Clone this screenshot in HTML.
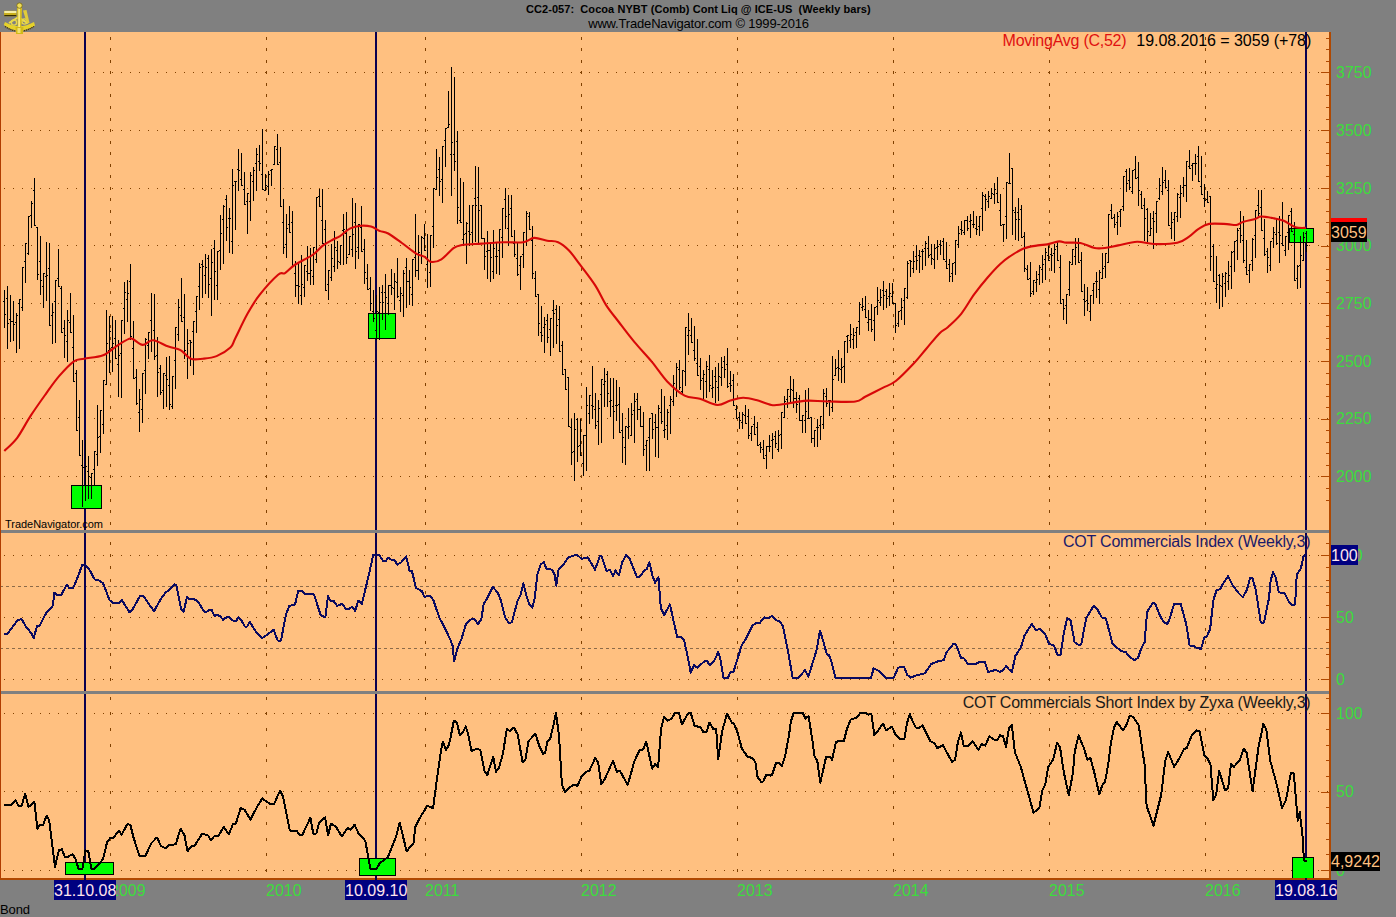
<!DOCTYPE html>
<html><head><meta charset="utf-8"><title>CC2-057 Cocoa NYBT Weekly</title>
<style>html,body{margin:0;padding:0;background:#808080;overflow:hidden}svg{display:block}text{font-family:"Liberation Sans", Arial, sans-serif}</style>
</head><body>
<svg width="1396" height="917" viewBox="0 0 1396 917" shape-rendering="crispEdges">
<rect x="0" y="0" width="1396" height="917" fill="#808080"/><rect x="0" y="32" width="1329" height="846" fill="#FFC080"/><path d="M4 72h1M13 72h1M22 72h1M31 72h1M40 72h1M49 72h1M58 72h1M67 72h1M76 72h1M85 72h1M94 72h1M103 72h1M112 72h1M121 72h1M130 72h1M139 72h1M148 72h1M157 72h1M166 72h1M175 72h1M184 72h1M193 72h1M202 72h1M211 72h1M220 72h1M229 72h1M238 72h1M247 72h1M256 72h1M265 72h1M274 72h1M283 72h1M292 72h1M301 72h1M310 72h1M319 72h1M328 72h1M337 72h1M346 72h1M355 72h1M364 72h1M373 72h1M382 72h1M391 72h1M400 72h1M409 72h1M418 72h1M427 72h1M436 72h1M445 72h1M454 72h1M463 72h1M472 72h1M481 72h1M490 72h1M499 72h1M508 72h1M517 72h1M526 72h1M535 72h1M544 72h1M553 72h1M562 72h1M571 72h1M580 72h1M589 72h1M598 72h1M607 72h1M616 72h1M625 72h1M634 72h1M643 72h1M652 72h1M661 72h1M670 72h1M679 72h1M688 72h1M697 72h1M706 72h1M715 72h1M724 72h1M733 72h1M742 72h1M751 72h1M760 72h1M769 72h1M778 72h1M787 72h1M796 72h1M805 72h1M814 72h1M823 72h1M832 72h1M841 72h1M850 72h1M859 72h1M868 72h1M877 72h1M886 72h1M895 72h1M904 72h1M913 72h1M922 72h1M931 72h1M940 72h1M949 72h1M958 72h1M967 72h1M976 72h1M985 72h1M994 72h1M1003 72h1M1012 72h1M1021 72h1M1030 72h1M1039 72h1M1048 72h1M1057 72h1M1066 72h1M1075 72h1M1084 72h1M1093 72h1M1102 72h1M1111 72h1M1120 72h1M1129 72h1M1138 72h1M1147 72h1M1156 72h1M1165 72h1M1174 72h1M1183 72h1M1192 72h1M1201 72h1M1210 72h1M1219 72h1M1228 72h1M1237 72h1M1246 72h1M1255 72h1M1264 72h1M1273 72h1M1282 72h1M1291 72h1M1300 72h1M1309 72h1M1318 72h1M1327 72h1M4 130h1M13 130h1M22 130h1M31 130h1M40 130h1M49 130h1M58 130h1M67 130h1M76 130h1M85 130h1M94 130h1M103 130h1M112 130h1M121 130h1M130 130h1M139 130h1M148 130h1M157 130h1M166 130h1M175 130h1M184 130h1M193 130h1M202 130h1M211 130h1M220 130h1M229 130h1M238 130h1M247 130h1M256 130h1M265 130h1M274 130h1M283 130h1M292 130h1M301 130h1M310 130h1M319 130h1M328 130h1M337 130h1M346 130h1M355 130h1M364 130h1M373 130h1M382 130h1M391 130h1M400 130h1M409 130h1M418 130h1M427 130h1M436 130h1M445 130h1M454 130h1M463 130h1M472 130h1M481 130h1M490 130h1M499 130h1M508 130h1M517 130h1M526 130h1M535 130h1M544 130h1M553 130h1M562 130h1M571 130h1M580 130h1M589 130h1M598 130h1M607 130h1M616 130h1M625 130h1M634 130h1M643 130h1M652 130h1M661 130h1M670 130h1M679 130h1M688 130h1M697 130h1M706 130h1M715 130h1M724 130h1M733 130h1M742 130h1M751 130h1M760 130h1M769 130h1M778 130h1M787 130h1M796 130h1M805 130h1M814 130h1M823 130h1M832 130h1M841 130h1M850 130h1M859 130h1M868 130h1M877 130h1M886 130h1M895 130h1M904 130h1M913 130h1M922 130h1M931 130h1M940 130h1M949 130h1M958 130h1M967 130h1M976 130h1M985 130h1M994 130h1M1003 130h1M1012 130h1M1021 130h1M1030 130h1M1039 130h1M1048 130h1M1057 130h1M1066 130h1M1075 130h1M1084 130h1M1093 130h1M1102 130h1M1111 130h1M1120 130h1M1129 130h1M1138 130h1M1147 130h1M1156 130h1M1165 130h1M1174 130h1M1183 130h1M1192 130h1M1201 130h1M1210 130h1M1219 130h1M1228 130h1M1237 130h1M1246 130h1M1255 130h1M1264 130h1M1273 130h1M1282 130h1M1291 130h1M1300 130h1M1309 130h1M1318 130h1M1327 130h1M4 188h1M13 188h1M22 188h1M31 188h1M40 188h1M49 188h1M58 188h1M67 188h1M76 188h1M85 188h1M94 188h1M103 188h1M112 188h1M121 188h1M130 188h1M139 188h1M148 188h1M157 188h1M166 188h1M175 188h1M184 188h1M193 188h1M202 188h1M211 188h1M220 188h1M229 188h1M238 188h1M247 188h1M256 188h1M265 188h1M274 188h1M283 188h1M292 188h1M301 188h1M310 188h1M319 188h1M328 188h1M337 188h1M346 188h1M355 188h1M364 188h1M373 188h1M382 188h1M391 188h1M400 188h1M409 188h1M418 188h1M427 188h1M436 188h1M445 188h1M454 188h1M463 188h1M472 188h1M481 188h1M490 188h1M499 188h1M508 188h1M517 188h1M526 188h1M535 188h1M544 188h1M553 188h1M562 188h1M571 188h1M580 188h1M589 188h1M598 188h1M607 188h1M616 188h1M625 188h1M634 188h1M643 188h1M652 188h1M661 188h1M670 188h1M679 188h1M688 188h1M697 188h1M706 188h1M715 188h1M724 188h1M733 188h1M742 188h1M751 188h1M760 188h1M769 188h1M778 188h1M787 188h1M796 188h1M805 188h1M814 188h1M823 188h1M832 188h1M841 188h1M850 188h1M859 188h1M868 188h1M877 188h1M886 188h1M895 188h1M904 188h1M913 188h1M922 188h1M931 188h1M940 188h1M949 188h1M958 188h1M967 188h1M976 188h1M985 188h1M994 188h1M1003 188h1M1012 188h1M1021 188h1M1030 188h1M1039 188h1M1048 188h1M1057 188h1M1066 188h1M1075 188h1M1084 188h1M1093 188h1M1102 188h1M1111 188h1M1120 188h1M1129 188h1M1138 188h1M1147 188h1M1156 188h1M1165 188h1M1174 188h1M1183 188h1M1192 188h1M1201 188h1M1210 188h1M1219 188h1M1228 188h1M1237 188h1M1246 188h1M1255 188h1M1264 188h1M1273 188h1M1282 188h1M1291 188h1M1300 188h1M1309 188h1M1318 188h1M1327 188h1M4 245h1M13 245h1M22 245h1M31 245h1M40 245h1M49 245h1M58 245h1M67 245h1M76 245h1M85 245h1M94 245h1M103 245h1M112 245h1M121 245h1M130 245h1M139 245h1M148 245h1M157 245h1M166 245h1M175 245h1M184 245h1M193 245h1M202 245h1M211 245h1M220 245h1M229 245h1M238 245h1M247 245h1M256 245h1M265 245h1M274 245h1M283 245h1M292 245h1M301 245h1M310 245h1M319 245h1M328 245h1M337 245h1M346 245h1M355 245h1M364 245h1M373 245h1M382 245h1M391 245h1M400 245h1M409 245h1M418 245h1M427 245h1M436 245h1M445 245h1M454 245h1M463 245h1M472 245h1M481 245h1M490 245h1M499 245h1M508 245h1M517 245h1M526 245h1M535 245h1M544 245h1M553 245h1M562 245h1M571 245h1M580 245h1M589 245h1M598 245h1M607 245h1M616 245h1M625 245h1M634 245h1M643 245h1M652 245h1M661 245h1M670 245h1M679 245h1M688 245h1M697 245h1M706 245h1M715 245h1M724 245h1M733 245h1M742 245h1M751 245h1M760 245h1M769 245h1M778 245h1M787 245h1M796 245h1M805 245h1M814 245h1M823 245h1M832 245h1M841 245h1M850 245h1M859 245h1M868 245h1M877 245h1M886 245h1M895 245h1M904 245h1M913 245h1M922 245h1M931 245h1M940 245h1M949 245h1M958 245h1M967 245h1M976 245h1M985 245h1M994 245h1M1003 245h1M1012 245h1M1021 245h1M1030 245h1M1039 245h1M1048 245h1M1057 245h1M1066 245h1M1075 245h1M1084 245h1M1093 245h1M1102 245h1M1111 245h1M1120 245h1M1129 245h1M1138 245h1M1147 245h1M1156 245h1M1165 245h1M1174 245h1M1183 245h1M1192 245h1M1201 245h1M1210 245h1M1219 245h1M1228 245h1M1237 245h1M1246 245h1M1255 245h1M1264 245h1M1273 245h1M1282 245h1M1291 245h1M1300 245h1M1309 245h1M1318 245h1M1327 245h1M4 303h1M13 303h1M22 303h1M31 303h1M40 303h1M49 303h1M58 303h1M67 303h1M76 303h1M85 303h1M94 303h1M103 303h1M112 303h1M121 303h1M130 303h1M139 303h1M148 303h1M157 303h1M166 303h1M175 303h1M184 303h1M193 303h1M202 303h1M211 303h1M220 303h1M229 303h1M238 303h1M247 303h1M256 303h1M265 303h1M274 303h1M283 303h1M292 303h1M301 303h1M310 303h1M319 303h1M328 303h1M337 303h1M346 303h1M355 303h1M364 303h1M373 303h1M382 303h1M391 303h1M400 303h1M409 303h1M418 303h1M427 303h1M436 303h1M445 303h1M454 303h1M463 303h1M472 303h1M481 303h1M490 303h1M499 303h1M508 303h1M517 303h1M526 303h1M535 303h1M544 303h1M553 303h1M562 303h1M571 303h1M580 303h1M589 303h1M598 303h1M607 303h1M616 303h1M625 303h1M634 303h1M643 303h1M652 303h1M661 303h1M670 303h1M679 303h1M688 303h1M697 303h1M706 303h1M715 303h1M724 303h1M733 303h1M742 303h1M751 303h1M760 303h1M769 303h1M778 303h1M787 303h1M796 303h1M805 303h1M814 303h1M823 303h1M832 303h1M841 303h1M850 303h1M859 303h1M868 303h1M877 303h1M886 303h1M895 303h1M904 303h1M913 303h1M922 303h1M931 303h1M940 303h1M949 303h1M958 303h1M967 303h1M976 303h1M985 303h1M994 303h1M1003 303h1M1012 303h1M1021 303h1M1030 303h1M1039 303h1M1048 303h1M1057 303h1M1066 303h1M1075 303h1M1084 303h1M1093 303h1M1102 303h1M1111 303h1M1120 303h1M1129 303h1M1138 303h1M1147 303h1M1156 303h1M1165 303h1M1174 303h1M1183 303h1M1192 303h1M1201 303h1M1210 303h1M1219 303h1M1228 303h1M1237 303h1M1246 303h1M1255 303h1M1264 303h1M1273 303h1M1282 303h1M1291 303h1M1300 303h1M1309 303h1M1318 303h1M1327 303h1M4 361h1M13 361h1M22 361h1M31 361h1M40 361h1M49 361h1M58 361h1M67 361h1M76 361h1M85 361h1M94 361h1M103 361h1M112 361h1M121 361h1M130 361h1M139 361h1M148 361h1M157 361h1M166 361h1M175 361h1M184 361h1M193 361h1M202 361h1M211 361h1M220 361h1M229 361h1M238 361h1M247 361h1M256 361h1M265 361h1M274 361h1M283 361h1M292 361h1M301 361h1M310 361h1M319 361h1M328 361h1M337 361h1M346 361h1M355 361h1M364 361h1M373 361h1M382 361h1M391 361h1M400 361h1M409 361h1M418 361h1M427 361h1M436 361h1M445 361h1M454 361h1M463 361h1M472 361h1M481 361h1M490 361h1M499 361h1M508 361h1M517 361h1M526 361h1M535 361h1M544 361h1M553 361h1M562 361h1M571 361h1M580 361h1M589 361h1M598 361h1M607 361h1M616 361h1M625 361h1M634 361h1M643 361h1M652 361h1M661 361h1M670 361h1M679 361h1M688 361h1M697 361h1M706 361h1M715 361h1M724 361h1M733 361h1M742 361h1M751 361h1M760 361h1M769 361h1M778 361h1M787 361h1M796 361h1M805 361h1M814 361h1M823 361h1M832 361h1M841 361h1M850 361h1M859 361h1M868 361h1M877 361h1M886 361h1M895 361h1M904 361h1M913 361h1M922 361h1M931 361h1M940 361h1M949 361h1M958 361h1M967 361h1M976 361h1M985 361h1M994 361h1M1003 361h1M1012 361h1M1021 361h1M1030 361h1M1039 361h1M1048 361h1M1057 361h1M1066 361h1M1075 361h1M1084 361h1M1093 361h1M1102 361h1M1111 361h1M1120 361h1M1129 361h1M1138 361h1M1147 361h1M1156 361h1M1165 361h1M1174 361h1M1183 361h1M1192 361h1M1201 361h1M1210 361h1M1219 361h1M1228 361h1M1237 361h1M1246 361h1M1255 361h1M1264 361h1M1273 361h1M1282 361h1M1291 361h1M1300 361h1M1309 361h1M1318 361h1M1327 361h1M4 418h1M13 418h1M22 418h1M31 418h1M40 418h1M49 418h1M58 418h1M67 418h1M76 418h1M85 418h1M94 418h1M103 418h1M112 418h1M121 418h1M130 418h1M139 418h1M148 418h1M157 418h1M166 418h1M175 418h1M184 418h1M193 418h1M202 418h1M211 418h1M220 418h1M229 418h1M238 418h1M247 418h1M256 418h1M265 418h1M274 418h1M283 418h1M292 418h1M301 418h1M310 418h1M319 418h1M328 418h1M337 418h1M346 418h1M355 418h1M364 418h1M373 418h1M382 418h1M391 418h1M400 418h1M409 418h1M418 418h1M427 418h1M436 418h1M445 418h1M454 418h1M463 418h1M472 418h1M481 418h1M490 418h1M499 418h1M508 418h1M517 418h1M526 418h1M535 418h1M544 418h1M553 418h1M562 418h1M571 418h1M580 418h1M589 418h1M598 418h1M607 418h1M616 418h1M625 418h1M634 418h1M643 418h1M652 418h1M661 418h1M670 418h1M679 418h1M688 418h1M697 418h1M706 418h1M715 418h1M724 418h1M733 418h1M742 418h1M751 418h1M760 418h1M769 418h1M778 418h1M787 418h1M796 418h1M805 418h1M814 418h1M823 418h1M832 418h1M841 418h1M850 418h1M859 418h1M868 418h1M877 418h1M886 418h1M895 418h1M904 418h1M913 418h1M922 418h1M931 418h1M940 418h1M949 418h1M958 418h1M967 418h1M976 418h1M985 418h1M994 418h1M1003 418h1M1012 418h1M1021 418h1M1030 418h1M1039 418h1M1048 418h1M1057 418h1M1066 418h1M1075 418h1M1084 418h1M1093 418h1M1102 418h1M1111 418h1M1120 418h1M1129 418h1M1138 418h1M1147 418h1M1156 418h1M1165 418h1M1174 418h1M1183 418h1M1192 418h1M1201 418h1M1210 418h1M1219 418h1M1228 418h1M1237 418h1M1246 418h1M1255 418h1M1264 418h1M1273 418h1M1282 418h1M1291 418h1M1300 418h1M1309 418h1M1318 418h1M1327 418h1M4 476h1M13 476h1M22 476h1M31 476h1M40 476h1M49 476h1M58 476h1M67 476h1M76 476h1M85 476h1M94 476h1M103 476h1M112 476h1M121 476h1M130 476h1M139 476h1M148 476h1M157 476h1M166 476h1M175 476h1M184 476h1M193 476h1M202 476h1M211 476h1M220 476h1M229 476h1M238 476h1M247 476h1M256 476h1M265 476h1M274 476h1M283 476h1M292 476h1M301 476h1M310 476h1M319 476h1M328 476h1M337 476h1M346 476h1M355 476h1M364 476h1M373 476h1M382 476h1M391 476h1M400 476h1M409 476h1M418 476h1M427 476h1M436 476h1M445 476h1M454 476h1M463 476h1M472 476h1M481 476h1M490 476h1M499 476h1M508 476h1M517 476h1M526 476h1M535 476h1M544 476h1M553 476h1M562 476h1M571 476h1M580 476h1M589 476h1M598 476h1M607 476h1M616 476h1M625 476h1M634 476h1M643 476h1M652 476h1M661 476h1M670 476h1M679 476h1M688 476h1M697 476h1M706 476h1M715 476h1M724 476h1M733 476h1M742 476h1M751 476h1M760 476h1M769 476h1M778 476h1M787 476h1M796 476h1M805 476h1M814 476h1M823 476h1M832 476h1M841 476h1M850 476h1M859 476h1M868 476h1M877 476h1M886 476h1M895 476h1M904 476h1M913 476h1M922 476h1M931 476h1M940 476h1M949 476h1M958 476h1M967 476h1M976 476h1M985 476h1M994 476h1M1003 476h1M1012 476h1M1021 476h1M1030 476h1M1039 476h1M1048 476h1M1057 476h1M1066 476h1M1075 476h1M1084 476h1M1093 476h1M1102 476h1M1111 476h1M1120 476h1M1129 476h1M1138 476h1M1147 476h1M1156 476h1M1165 476h1M1174 476h1M1183 476h1M1192 476h1M1201 476h1M1210 476h1M1219 476h1M1228 476h1M1237 476h1M1246 476h1M1255 476h1M1264 476h1M1273 476h1M1282 476h1M1291 476h1M1300 476h1M1309 476h1M1318 476h1M1327 476h1M4 555h1M13 555h1M22 555h1M31 555h1M40 555h1M49 555h1M58 555h1M67 555h1M76 555h1M85 555h1M94 555h1M103 555h1M112 555h1M121 555h1M130 555h1M139 555h1M148 555h1M157 555h1M166 555h1M175 555h1M184 555h1M193 555h1M202 555h1M211 555h1M220 555h1M229 555h1M238 555h1M247 555h1M256 555h1M265 555h1M274 555h1M283 555h1M292 555h1M301 555h1M310 555h1M319 555h1M328 555h1M337 555h1M346 555h1M355 555h1M364 555h1M373 555h1M382 555h1M391 555h1M400 555h1M409 555h1M418 555h1M427 555h1M436 555h1M445 555h1M454 555h1M463 555h1M472 555h1M481 555h1M490 555h1M499 555h1M508 555h1M517 555h1M526 555h1M535 555h1M544 555h1M553 555h1M562 555h1M571 555h1M580 555h1M589 555h1M598 555h1M607 555h1M616 555h1M625 555h1M634 555h1M643 555h1M652 555h1M661 555h1M670 555h1M679 555h1M688 555h1M697 555h1M706 555h1M715 555h1M724 555h1M733 555h1M742 555h1M751 555h1M760 555h1M769 555h1M778 555h1M787 555h1M796 555h1M805 555h1M814 555h1M823 555h1M832 555h1M841 555h1M850 555h1M859 555h1M868 555h1M877 555h1M886 555h1M895 555h1M904 555h1M913 555h1M922 555h1M931 555h1M940 555h1M949 555h1M958 555h1M967 555h1M976 555h1M985 555h1M994 555h1M1003 555h1M1012 555h1M1021 555h1M1030 555h1M1039 555h1M1048 555h1M1057 555h1M1066 555h1M1075 555h1M1084 555h1M1093 555h1M1102 555h1M1111 555h1M1120 555h1M1129 555h1M1138 555h1M1147 555h1M1156 555h1M1165 555h1M1174 555h1M1183 555h1M1192 555h1M1201 555h1M1210 555h1M1219 555h1M1228 555h1M1237 555h1M1246 555h1M1255 555h1M1264 555h1M1273 555h1M1282 555h1M1291 555h1M1300 555h1M1309 555h1M1318 555h1M1327 555h1M4 617h1M13 617h1M22 617h1M31 617h1M40 617h1M49 617h1M58 617h1M67 617h1M76 617h1M85 617h1M94 617h1M103 617h1M112 617h1M121 617h1M130 617h1M139 617h1M148 617h1M157 617h1M166 617h1M175 617h1M184 617h1M193 617h1M202 617h1M211 617h1M220 617h1M229 617h1M238 617h1M247 617h1M256 617h1M265 617h1M274 617h1M283 617h1M292 617h1M301 617h1M310 617h1M319 617h1M328 617h1M337 617h1M346 617h1M355 617h1M364 617h1M373 617h1M382 617h1M391 617h1M400 617h1M409 617h1M418 617h1M427 617h1M436 617h1M445 617h1M454 617h1M463 617h1M472 617h1M481 617h1M490 617h1M499 617h1M508 617h1M517 617h1M526 617h1M535 617h1M544 617h1M553 617h1M562 617h1M571 617h1M580 617h1M589 617h1M598 617h1M607 617h1M616 617h1M625 617h1M634 617h1M643 617h1M652 617h1M661 617h1M670 617h1M679 617h1M688 617h1M697 617h1M706 617h1M715 617h1M724 617h1M733 617h1M742 617h1M751 617h1M760 617h1M769 617h1M778 617h1M787 617h1M796 617h1M805 617h1M814 617h1M823 617h1M832 617h1M841 617h1M850 617h1M859 617h1M868 617h1M877 617h1M886 617h1M895 617h1M904 617h1M913 617h1M922 617h1M931 617h1M940 617h1M949 617h1M958 617h1M967 617h1M976 617h1M985 617h1M994 617h1M1003 617h1M1012 617h1M1021 617h1M1030 617h1M1039 617h1M1048 617h1M1057 617h1M1066 617h1M1075 617h1M1084 617h1M1093 617h1M1102 617h1M1111 617h1M1120 617h1M1129 617h1M1138 617h1M1147 617h1M1156 617h1M1165 617h1M1174 617h1M1183 617h1M1192 617h1M1201 617h1M1210 617h1M1219 617h1M1228 617h1M1237 617h1M1246 617h1M1255 617h1M1264 617h1M1273 617h1M1282 617h1M1291 617h1M1300 617h1M1309 617h1M1318 617h1M1327 617h1M4 679h1M13 679h1M22 679h1M31 679h1M40 679h1M49 679h1M58 679h1M67 679h1M76 679h1M85 679h1M94 679h1M103 679h1M112 679h1M121 679h1M130 679h1M139 679h1M148 679h1M157 679h1M166 679h1M175 679h1M184 679h1M193 679h1M202 679h1M211 679h1M220 679h1M229 679h1M238 679h1M247 679h1M256 679h1M265 679h1M274 679h1M283 679h1M292 679h1M301 679h1M310 679h1M319 679h1M328 679h1M337 679h1M346 679h1M355 679h1M364 679h1M373 679h1M382 679h1M391 679h1M400 679h1M409 679h1M418 679h1M427 679h1M436 679h1M445 679h1M454 679h1M463 679h1M472 679h1M481 679h1M490 679h1M499 679h1M508 679h1M517 679h1M526 679h1M535 679h1M544 679h1M553 679h1M562 679h1M571 679h1M580 679h1M589 679h1M598 679h1M607 679h1M616 679h1M625 679h1M634 679h1M643 679h1M652 679h1M661 679h1M670 679h1M679 679h1M688 679h1M697 679h1M706 679h1M715 679h1M724 679h1M733 679h1M742 679h1M751 679h1M760 679h1M769 679h1M778 679h1M787 679h1M796 679h1M805 679h1M814 679h1M823 679h1M832 679h1M841 679h1M850 679h1M859 679h1M868 679h1M877 679h1M886 679h1M895 679h1M904 679h1M913 679h1M922 679h1M931 679h1M940 679h1M949 679h1M958 679h1M967 679h1M976 679h1M985 679h1M994 679h1M1003 679h1M1012 679h1M1021 679h1M1030 679h1M1039 679h1M1048 679h1M1057 679h1M1066 679h1M1075 679h1M1084 679h1M1093 679h1M1102 679h1M1111 679h1M1120 679h1M1129 679h1M1138 679h1M1147 679h1M1156 679h1M1165 679h1M1174 679h1M1183 679h1M1192 679h1M1201 679h1M1210 679h1M1219 679h1M1228 679h1M1237 679h1M1246 679h1M1255 679h1M1264 679h1M1273 679h1M1282 679h1M1291 679h1M1300 679h1M1309 679h1M1318 679h1M1327 679h1M4 713h1M13 713h1M22 713h1M31 713h1M40 713h1M49 713h1M58 713h1M67 713h1M76 713h1M85 713h1M94 713h1M103 713h1M112 713h1M121 713h1M130 713h1M139 713h1M148 713h1M157 713h1M166 713h1M175 713h1M184 713h1M193 713h1M202 713h1M211 713h1M220 713h1M229 713h1M238 713h1M247 713h1M256 713h1M265 713h1M274 713h1M283 713h1M292 713h1M301 713h1M310 713h1M319 713h1M328 713h1M337 713h1M346 713h1M355 713h1M364 713h1M373 713h1M382 713h1M391 713h1M400 713h1M409 713h1M418 713h1M427 713h1M436 713h1M445 713h1M454 713h1M463 713h1M472 713h1M481 713h1M490 713h1M499 713h1M508 713h1M517 713h1M526 713h1M535 713h1M544 713h1M553 713h1M562 713h1M571 713h1M580 713h1M589 713h1M598 713h1M607 713h1M616 713h1M625 713h1M634 713h1M643 713h1M652 713h1M661 713h1M670 713h1M679 713h1M688 713h1M697 713h1M706 713h1M715 713h1M724 713h1M733 713h1M742 713h1M751 713h1M760 713h1M769 713h1M778 713h1M787 713h1M796 713h1M805 713h1M814 713h1M823 713h1M832 713h1M841 713h1M850 713h1M859 713h1M868 713h1M877 713h1M886 713h1M895 713h1M904 713h1M913 713h1M922 713h1M931 713h1M940 713h1M949 713h1M958 713h1M967 713h1M976 713h1M985 713h1M994 713h1M1003 713h1M1012 713h1M1021 713h1M1030 713h1M1039 713h1M1048 713h1M1057 713h1M1066 713h1M1075 713h1M1084 713h1M1093 713h1M1102 713h1M1111 713h1M1120 713h1M1129 713h1M1138 713h1M1147 713h1M1156 713h1M1165 713h1M1174 713h1M1183 713h1M1192 713h1M1201 713h1M1210 713h1M1219 713h1M1228 713h1M1237 713h1M1246 713h1M1255 713h1M1264 713h1M1273 713h1M1282 713h1M1291 713h1M1300 713h1M1309 713h1M1318 713h1M1327 713h1M4 791h1M13 791h1M22 791h1M31 791h1M40 791h1M49 791h1M58 791h1M67 791h1M76 791h1M85 791h1M94 791h1M103 791h1M112 791h1M121 791h1M130 791h1M139 791h1M148 791h1M157 791h1M166 791h1M175 791h1M184 791h1M193 791h1M202 791h1M211 791h1M220 791h1M229 791h1M238 791h1M247 791h1M256 791h1M265 791h1M274 791h1M283 791h1M292 791h1M301 791h1M310 791h1M319 791h1M328 791h1M337 791h1M346 791h1M355 791h1M364 791h1M373 791h1M382 791h1M391 791h1M400 791h1M409 791h1M418 791h1M427 791h1M436 791h1M445 791h1M454 791h1M463 791h1M472 791h1M481 791h1M490 791h1M499 791h1M508 791h1M517 791h1M526 791h1M535 791h1M544 791h1M553 791h1M562 791h1M571 791h1M580 791h1M589 791h1M598 791h1M607 791h1M616 791h1M625 791h1M634 791h1M643 791h1M652 791h1M661 791h1M670 791h1M679 791h1M688 791h1M697 791h1M706 791h1M715 791h1M724 791h1M733 791h1M742 791h1M751 791h1M760 791h1M769 791h1M778 791h1M787 791h1M796 791h1M805 791h1M814 791h1M823 791h1M832 791h1M841 791h1M850 791h1M859 791h1M868 791h1M877 791h1M886 791h1M895 791h1M904 791h1M913 791h1M922 791h1M931 791h1M940 791h1M949 791h1M958 791h1M967 791h1M976 791h1M985 791h1M994 791h1M1003 791h1M1012 791h1M1021 791h1M1030 791h1M1039 791h1M1048 791h1M1057 791h1M1066 791h1M1075 791h1M1084 791h1M1093 791h1M1102 791h1M1111 791h1M1120 791h1M1129 791h1M1138 791h1M1147 791h1M1156 791h1M1165 791h1M1174 791h1M1183 791h1M1192 791h1M1201 791h1M1210 791h1M1219 791h1M1228 791h1M1237 791h1M1246 791h1M1255 791h1M1264 791h1M1273 791h1M1282 791h1M1291 791h1M1300 791h1M1309 791h1M1318 791h1M1327 791h1M4 870h1M13 870h1M22 870h1M31 870h1M40 870h1M49 870h1M58 870h1M67 870h1M76 870h1M85 870h1M94 870h1M103 870h1M112 870h1M121 870h1M130 870h1M139 870h1M148 870h1M157 870h1M166 870h1M175 870h1M184 870h1M193 870h1M202 870h1M211 870h1M220 870h1M229 870h1M238 870h1M247 870h1M256 870h1M265 870h1M274 870h1M283 870h1M292 870h1M301 870h1M310 870h1M319 870h1M328 870h1M337 870h1M346 870h1M355 870h1M364 870h1M373 870h1M382 870h1M391 870h1M400 870h1M409 870h1M418 870h1M427 870h1M436 870h1M445 870h1M454 870h1M463 870h1M472 870h1M481 870h1M490 870h1M499 870h1M508 870h1M517 870h1M526 870h1M535 870h1M544 870h1M553 870h1M562 870h1M571 870h1M580 870h1M589 870h1M598 870h1M607 870h1M616 870h1M625 870h1M634 870h1M643 870h1M652 870h1M661 870h1M670 870h1M679 870h1M688 870h1M697 870h1M706 870h1M715 870h1M724 870h1M733 870h1M742 870h1M751 870h1M760 870h1M769 870h1M778 870h1M787 870h1M796 870h1M805 870h1M814 870h1M823 870h1M832 870h1M841 870h1M850 870h1M859 870h1M868 870h1M877 870h1M886 870h1M895 870h1M904 870h1M913 870h1M922 870h1M931 870h1M940 870h1M949 870h1M958 870h1M967 870h1M976 870h1M985 870h1M994 870h1M1003 870h1M1012 870h1M1021 870h1M1030 870h1M1039 870h1M1048 870h1M1057 870h1M1066 870h1M1075 870h1M1084 870h1M1093 870h1M1102 870h1M1111 870h1M1120 870h1M1129 870h1M1138 870h1M1147 870h1M1156 870h1M1165 870h1M1174 870h1M1183 870h1M1192 870h1M1201 870h1M1210 870h1M1219 870h1M1228 870h1M1237 870h1M1246 870h1M1255 870h1M1264 870h1M1273 870h1M1282 870h1M1291 870h1M1300 870h1M1309 870h1M1318 870h1M1327 870h1" stroke="#804000" stroke-width="1" transform="translate(0,0.5)"/><path d="M0 586h3M6 586h3M12 586h3M18 586h3M24 586h3M30 586h3M36 586h3M42 586h3M48 586h3M54 586h3M60 586h3M66 586h3M72 586h3M78 586h3M84 586h3M90 586h3M96 586h3M102 586h3M108 586h3M114 586h3M120 586h3M126 586h3M132 586h3M138 586h3M144 586h3M150 586h3M156 586h3M162 586h3M168 586h3M174 586h3M180 586h3M186 586h3M192 586h3M198 586h3M204 586h3M210 586h3M216 586h3M222 586h3M228 586h3M234 586h3M240 586h3M246 586h3M252 586h3M258 586h3M264 586h3M270 586h3M276 586h3M282 586h3M288 586h3M294 586h3M300 586h3M306 586h3M312 586h3M318 586h3M324 586h3M330 586h3M336 586h3M342 586h3M348 586h3M354 586h3M360 586h3M366 586h3M372 586h3M378 586h3M384 586h3M390 586h3M396 586h3M402 586h3M408 586h3M414 586h3M420 586h3M426 586h3M432 586h3M438 586h3M444 586h3M450 586h3M456 586h3M462 586h3M468 586h3M474 586h3M480 586h3M486 586h3M492 586h3M498 586h3M504 586h3M510 586h3M516 586h3M522 586h3M528 586h3M534 586h3M540 586h3M546 586h3M552 586h3M558 586h3M564 586h3M570 586h3M576 586h3M582 586h3M588 586h3M594 586h3M600 586h3M606 586h3M612 586h3M618 586h3M624 586h3M630 586h3M636 586h3M642 586h3M648 586h3M654 586h3M660 586h3M666 586h3M672 586h3M678 586h3M684 586h3M690 586h3M696 586h3M702 586h3M708 586h3M714 586h3M720 586h3M726 586h3M732 586h3M738 586h3M744 586h3M750 586h3M756 586h3M762 586h3M768 586h3M774 586h3M780 586h3M786 586h3M792 586h3M798 586h3M804 586h3M810 586h3M816 586h3M822 586h3M828 586h3M834 586h3M840 586h3M846 586h3M852 586h3M858 586h3M864 586h3M870 586h3M876 586h3M882 586h3M888 586h3M894 586h3M900 586h3M906 586h3M912 586h3M918 586h3M924 586h3M930 586h3M936 586h3M942 586h3M948 586h3M954 586h3M960 586h3M966 586h3M972 586h3M978 586h3M984 586h3M990 586h3M996 586h3M1002 586h3M1008 586h3M1014 586h3M1020 586h3M1026 586h3M1032 586h3M1038 586h3M1044 586h3M1050 586h3M1056 586h3M1062 586h3M1068 586h3M1074 586h3M1080 586h3M1086 586h3M1092 586h3M1098 586h3M1104 586h3M1110 586h3M1116 586h3M1122 586h3M1128 586h3M1134 586h3M1140 586h3M1146 586h3M1152 586h3M1158 586h3M1164 586h3M1170 586h3M1176 586h3M1182 586h3M1188 586h3M1194 586h3M1200 586h3M1206 586h3M1212 586h3M1218 586h3M1224 586h3M1230 586h3M1236 586h3M1242 586h3M1248 586h3M1254 586h3M1260 586h3M1266 586h3M1272 586h3M1278 586h3M1284 586h3M1290 586h3M1296 586h3M1302 586h3M1308 586h3M1314 586h3M1320 586h3M1326 586h3M0 648h3M6 648h3M12 648h3M18 648h3M24 648h3M30 648h3M36 648h3M42 648h3M48 648h3M54 648h3M60 648h3M66 648h3M72 648h3M78 648h3M84 648h3M90 648h3M96 648h3M102 648h3M108 648h3M114 648h3M120 648h3M126 648h3M132 648h3M138 648h3M144 648h3M150 648h3M156 648h3M162 648h3M168 648h3M174 648h3M180 648h3M186 648h3M192 648h3M198 648h3M204 648h3M210 648h3M216 648h3M222 648h3M228 648h3M234 648h3M240 648h3M246 648h3M252 648h3M258 648h3M264 648h3M270 648h3M276 648h3M282 648h3M288 648h3M294 648h3M300 648h3M306 648h3M312 648h3M318 648h3M324 648h3M330 648h3M336 648h3M342 648h3M348 648h3M354 648h3M360 648h3M366 648h3M372 648h3M378 648h3M384 648h3M390 648h3M396 648h3M402 648h3M408 648h3M414 648h3M420 648h3M426 648h3M432 648h3M438 648h3M444 648h3M450 648h3M456 648h3M462 648h3M468 648h3M474 648h3M480 648h3M486 648h3M492 648h3M498 648h3M504 648h3M510 648h3M516 648h3M522 648h3M528 648h3M534 648h3M540 648h3M546 648h3M552 648h3M558 648h3M564 648h3M570 648h3M576 648h3M582 648h3M588 648h3M594 648h3M600 648h3M606 648h3M612 648h3M618 648h3M624 648h3M630 648h3M636 648h3M642 648h3M648 648h3M654 648h3M660 648h3M666 648h3M672 648h3M678 648h3M684 648h3M690 648h3M696 648h3M702 648h3M708 648h3M714 648h3M720 648h3M726 648h3M732 648h3M738 648h3M744 648h3M750 648h3M756 648h3M762 648h3M768 648h3M774 648h3M780 648h3M786 648h3M792 648h3M798 648h3M804 648h3M810 648h3M816 648h3M822 648h3M828 648h3M834 648h3M840 648h3M846 648h3M852 648h3M858 648h3M864 648h3M870 648h3M876 648h3M882 648h3M888 648h3M894 648h3M900 648h3M906 648h3M912 648h3M918 648h3M924 648h3M930 648h3M936 648h3M942 648h3M948 648h3M954 648h3M960 648h3M966 648h3M972 648h3M978 648h3M984 648h3M990 648h3M996 648h3M1002 648h3M1008 648h3M1014 648h3M1020 648h3M1026 648h3M1032 648h3M1038 648h3M1044 648h3M1050 648h3M1056 648h3M1062 648h3M1068 648h3M1074 648h3M1080 648h3M1086 648h3M1092 648h3M1098 648h3M1104 648h3M1110 648h3M1116 648h3M1122 648h3M1128 648h3M1134 648h3M1140 648h3M1146 648h3M1152 648h3M1158 648h3M1164 648h3M1170 648h3M1176 648h3M1182 648h3M1188 648h3M1194 648h3M1200 648h3M1206 648h3M1212 648h3M1218 648h3M1224 648h3M1230 648h3M1236 648h3M1242 648h3M1248 648h3M1254 648h3M1260 648h3M1266 648h3M1272 648h3M1278 648h3M1284 648h3M1290 648h3M1296 648h3M1302 648h3M1308 648h3M1314 648h3M1320 648h3M1326 648h3" stroke="#8C6A48" stroke-width="1" transform="translate(0,0.5)"/><path d="M110 522v3M110 510v3M110 499v3M110 487v3M110 475v3M110 464v3M110 452v3M110 441v3M110 429v3M110 418v3M110 406v3M110 395v3M110 383v3M110 372v3M110 360v3M110 348v3M110 337v3M110 325v3M110 314v3M110 302v3M110 291v3M110 279v3M110 268v3M110 256v3M110 245v3M110 233v3M110 221v3M110 210v3M110 198v3M110 187v3M110 175v3M110 164v3M110 152v3M110 141v3M110 129v3M110 118v3M110 106v3M110 94v3M110 83v3M110 71v3M110 60v3M110 48v3M110 37v3M110 678v3M110 666v3M110 653v3M110 641v3M110 628v3M110 616v3M110 604v3M110 591v3M110 579v3M110 566v3M110 554v3M110 542v3M110 869v3M110 853v3M110 838v3M110 822v3M110 806v3M110 791v3M110 775v3M110 759v3M110 744v3M110 728v3M110 712v3M110 697v3M266 522v3M266 510v3M266 499v3M266 487v3M266 475v3M266 464v3M266 452v3M266 441v3M266 429v3M266 418v3M266 406v3M266 395v3M266 383v3M266 372v3M266 360v3M266 348v3M266 337v3M266 325v3M266 314v3M266 302v3M266 291v3M266 279v3M266 268v3M266 256v3M266 245v3M266 233v3M266 221v3M266 210v3M266 198v3M266 187v3M266 175v3M266 164v3M266 152v3M266 141v3M266 129v3M266 118v3M266 106v3M266 94v3M266 83v3M266 71v3M266 60v3M266 48v3M266 37v3M266 678v3M266 666v3M266 653v3M266 641v3M266 628v3M266 616v3M266 604v3M266 591v3M266 579v3M266 566v3M266 554v3M266 542v3M266 869v3M266 853v3M266 838v3M266 822v3M266 806v3M266 791v3M266 775v3M266 759v3M266 744v3M266 728v3M266 712v3M266 697v3M425 522v3M425 510v3M425 499v3M425 487v3M425 475v3M425 464v3M425 452v3M425 441v3M425 429v3M425 418v3M425 406v3M425 395v3M425 383v3M425 372v3M425 360v3M425 348v3M425 337v3M425 325v3M425 314v3M425 302v3M425 291v3M425 279v3M425 268v3M425 256v3M425 245v3M425 233v3M425 221v3M425 210v3M425 198v3M425 187v3M425 175v3M425 164v3M425 152v3M425 141v3M425 129v3M425 118v3M425 106v3M425 94v3M425 83v3M425 71v3M425 60v3M425 48v3M425 37v3M425 678v3M425 666v3M425 653v3M425 641v3M425 628v3M425 616v3M425 604v3M425 591v3M425 579v3M425 566v3M425 554v3M425 542v3M425 869v3M425 853v3M425 838v3M425 822v3M425 806v3M425 791v3M425 775v3M425 759v3M425 744v3M425 728v3M425 712v3M425 697v3M581 522v3M581 510v3M581 499v3M581 487v3M581 475v3M581 464v3M581 452v3M581 441v3M581 429v3M581 418v3M581 406v3M581 395v3M581 383v3M581 372v3M581 360v3M581 348v3M581 337v3M581 325v3M581 314v3M581 302v3M581 291v3M581 279v3M581 268v3M581 256v3M581 245v3M581 233v3M581 221v3M581 210v3M581 198v3M581 187v3M581 175v3M581 164v3M581 152v3M581 141v3M581 129v3M581 118v3M581 106v3M581 94v3M581 83v3M581 71v3M581 60v3M581 48v3M581 37v3M581 678v3M581 666v3M581 653v3M581 641v3M581 628v3M581 616v3M581 604v3M581 591v3M581 579v3M581 566v3M581 554v3M581 542v3M581 869v3M581 853v3M581 838v3M581 822v3M581 806v3M581 791v3M581 775v3M581 759v3M581 744v3M581 728v3M581 712v3M581 697v3M737 522v3M737 510v3M737 499v3M737 487v3M737 475v3M737 464v3M737 452v3M737 441v3M737 429v3M737 418v3M737 406v3M737 395v3M737 383v3M737 372v3M737 360v3M737 348v3M737 337v3M737 325v3M737 314v3M737 302v3M737 291v3M737 279v3M737 268v3M737 256v3M737 245v3M737 233v3M737 221v3M737 210v3M737 198v3M737 187v3M737 175v3M737 164v3M737 152v3M737 141v3M737 129v3M737 118v3M737 106v3M737 94v3M737 83v3M737 71v3M737 60v3M737 48v3M737 37v3M737 678v3M737 666v3M737 653v3M737 641v3M737 628v3M737 616v3M737 604v3M737 591v3M737 579v3M737 566v3M737 554v3M737 542v3M737 869v3M737 853v3M737 838v3M737 822v3M737 806v3M737 791v3M737 775v3M737 759v3M737 744v3M737 728v3M737 712v3M737 697v3M893 522v3M893 510v3M893 499v3M893 487v3M893 475v3M893 464v3M893 452v3M893 441v3M893 429v3M893 418v3M893 406v3M893 395v3M893 383v3M893 372v3M893 360v3M893 348v3M893 337v3M893 325v3M893 314v3M893 302v3M893 291v3M893 279v3M893 268v3M893 256v3M893 245v3M893 233v3M893 221v3M893 210v3M893 198v3M893 187v3M893 175v3M893 164v3M893 152v3M893 141v3M893 129v3M893 118v3M893 106v3M893 94v3M893 83v3M893 71v3M893 60v3M893 48v3M893 37v3M893 678v3M893 666v3M893 653v3M893 641v3M893 628v3M893 616v3M893 604v3M893 591v3M893 579v3M893 566v3M893 554v3M893 542v3M893 869v3M893 853v3M893 838v3M893 822v3M893 806v3M893 791v3M893 775v3M893 759v3M893 744v3M893 728v3M893 712v3M893 697v3M1049 522v3M1049 510v3M1049 499v3M1049 487v3M1049 475v3M1049 464v3M1049 452v3M1049 441v3M1049 429v3M1049 418v3M1049 406v3M1049 395v3M1049 383v3M1049 372v3M1049 360v3M1049 348v3M1049 337v3M1049 325v3M1049 314v3M1049 302v3M1049 291v3M1049 279v3M1049 268v3M1049 256v3M1049 245v3M1049 233v3M1049 221v3M1049 210v3M1049 198v3M1049 187v3M1049 175v3M1049 164v3M1049 152v3M1049 141v3M1049 129v3M1049 118v3M1049 106v3M1049 94v3M1049 83v3M1049 71v3M1049 60v3M1049 48v3M1049 37v3M1049 678v3M1049 666v3M1049 653v3M1049 641v3M1049 628v3M1049 616v3M1049 604v3M1049 591v3M1049 579v3M1049 566v3M1049 554v3M1049 542v3M1049 869v3M1049 853v3M1049 838v3M1049 822v3M1049 806v3M1049 791v3M1049 775v3M1049 759v3M1049 744v3M1049 728v3M1049 712v3M1049 697v3M1205 522v3M1205 510v3M1205 499v3M1205 487v3M1205 475v3M1205 464v3M1205 452v3M1205 441v3M1205 429v3M1205 418v3M1205 406v3M1205 395v3M1205 383v3M1205 372v3M1205 360v3M1205 348v3M1205 337v3M1205 325v3M1205 314v3M1205 302v3M1205 291v3M1205 279v3M1205 268v3M1205 256v3M1205 245v3M1205 233v3M1205 221v3M1205 210v3M1205 198v3M1205 187v3M1205 175v3M1205 164v3M1205 152v3M1205 141v3M1205 129v3M1205 118v3M1205 106v3M1205 94v3M1205 83v3M1205 71v3M1205 60v3M1205 48v3M1205 37v3M1205 678v3M1205 666v3M1205 653v3M1205 641v3M1205 628v3M1205 616v3M1205 604v3M1205 591v3M1205 579v3M1205 566v3M1205 554v3M1205 542v3M1205 869v3M1205 853v3M1205 838v3M1205 822v3M1205 806v3M1205 791v3M1205 775v3M1205 759v3M1205 744v3M1205 728v3M1205 712v3M1205 697v3" stroke="#804000" stroke-width="1" transform="translate(0.5,0)"/><rect x="84" y="32" width="2" height="848" fill="#0A0050"/><rect x="375" y="32" width="2" height="848" fill="#0A0050"/><rect x="1305" y="32" width="2" height="848" fill="#0A0050"/><rect x="71.5" y="485.5" width="30" height="23" fill="#00FF00" stroke="#000" stroke-width="1"/><rect x="368.5" y="313.5" width="27" height="25" fill="#00FF00" stroke="#000" stroke-width="1"/><rect x="1289.5" y="228.5" width="24" height="14" fill="#00FF00" stroke="#000" stroke-width="1"/><rect x="65.5" y="862.5" width="48" height="12" fill="#00FF00" stroke="#000" stroke-width="1"/><rect x="359.5" y="858.5" width="36" height="17" fill="#00FF00" stroke="#000" stroke-width="1"/><rect x="1292.5" y="857.5" width="21" height="21" fill="#00FF00" stroke="#000" stroke-width="1"/><path d="M4.5 290V328M3 301.5h1M5 314.5h1M7.5 286V349M6 298.5h1M8 323.5h1M10.5 295V342M9 319.5h1M11 321.5h1M13.5 301V341M12 321.5h1M14 324.5h1M16.5 313V353M15 322.5h1M17 315.5h1M19.5 299V349M18 303.5h1M20 299.5h1M22.5 267V311M21 307.5h1M23 267.5h1M25.5 243V283M24 261.5h1M26 243.5h1M28.5 216V255M27 253.5h1M29 216.5h1M31.5 201V228M30 215.5h1M32 203.5h1M34.5 178V226M33 190.5h1M35 225.5h1M37.5 227V280M36 227.5h1M38 274.5h1M40.5 236V295M39 261.5h1M41 280.5h1M43.5 273V308M42 286.5h1M44 273.5h1M46.5 242V301M45 276.5h1M47 275.5h1M49.5 243V326M48 268.5h1M50 325.5h1M52.5 303V344M51 315.5h1M53 312.5h1M55.5 280V343M54 301.5h1M56 280.5h1M58.5 249V287M57 278.5h1M59 286.5h1M61.5 286V333M60 288.5h1M62 332.5h1M64.5 320V358M63 328.5h1M65 335.5h1M67.5 310V362M66 341.5h1M68 320.5h1M70.5 293V333M69 322.5h1M71 332.5h1M73.5 315V382M72 347.5h1M74 381.5h1M76.5 370V431M75 373.5h1M77 430.5h1M79.5 400V456M78 417.5h1M80 455.5h1M82.5 440V507M81 465.5h1M83 467.5h1M85.5 440V501M84 467.5h1M86 466.5h1M88.5 456V499M87 471.5h1M89 476.5h1M91.5 473V499M90 477.5h1M92 473.5h1M94.5 451V485M93 469.5h1M95 451.5h1M97.5 405V466M96 454.5h1M98 437.5h1M100.5 410V453M99 436.5h1M101 410.5h1M103.5 380V434M102 424.5h1M104 380.5h1M106.5 310V385M105 384.5h1M107 343.5h1M109.5 316V373M108 350.5h1M110 331.5h1M112.5 316V372M111 347.5h1M113 343.5h1M115.5 320V359M114 338.5h1M116 358.5h1M118.5 340V397M117 364.5h1M119 355.5h1M121.5 320V398M120 353.5h1M122 320.5h1M124.5 282V334M123 308.5h1M125 292.5h1M127.5 280V322M126 299.5h1M128 293.5h1M130.5 264V340M129 281.5h1M131 336.5h1M133.5 321V379M132 348.5h1M134 378.5h1M136.5 369V405M135 377.5h1M137 403.5h1M139.5 389V432M138 412.5h1M140 399.5h1M142.5 373V423M141 409.5h1M143 373.5h1M145.5 338V394M144 370.5h1M146 339.5h1M148.5 332V359M147 345.5h1M149 332.5h1M151.5 293V352M150 320.5h1M152 340.5h1M154.5 294V360M153 330.5h1M155 356.5h1M157.5 337V397M156 355.5h1M158 372.5h1M160.5 365V395M159 368.5h1M161 392.5h1M163.5 373V409M162 390.5h1M164 373.5h1M166.5 357V407M165 375.5h1M167 379.5h1M169.5 356V410M168 385.5h1M170 404.5h1M172.5 376V409M171 406.5h1M173 376.5h1M175.5 327V389M174 360.5h1M176 327.5h1M178.5 299V341M177 334.5h1M179 307.5h1M181.5 278V322M180 315.5h1M182 321.5h1M184.5 294V359M183 317.5h1M185 350.5h1M187.5 329V379M186 354.5h1M188 343.5h1M190.5 340V366M189 340.5h1M191 342.5h1M193.5 321V375M192 331.5h1M194 321.5h1M196.5 296V333M195 311.5h1M197 296.5h1M199.5 263V310M198 286.5h1M200 267.5h1M202.5 260V298M201 264.5h1M203 266.5h1M205.5 254V294M204 275.5h1M206 267.5h1M208.5 255V298M207 258.5h1M209 284.5h1M211.5 249V316M210 278.5h1M212 262.5h1M214.5 240V300M213 248.5h1M215 271.5h1M217.5 251V300M216 285.5h1M218 251.5h1M220.5 215V270M219 250.5h1M221 233.5h1M223.5 205V264M222 219.5h1M224 206.5h1M226.5 195V241M225 199.5h1M227 227.5h1M229.5 208V253M228 218.5h1M230 218.5h1M232.5 169V254M231 241.5h1M233 185.5h1M235.5 181V230M234 181.5h1M236 181.5h1M238.5 149V191M237 169.5h1M239 170.5h1M241.5 153V186M240 179.5h1M242 185.5h1M244.5 172V205M243 189.5h1M245 204.5h1M247.5 193V234M246 201.5h1M248 193.5h1M250.5 172V221M249 201.5h1M251 175.5h1M253.5 167V201M252 181.5h1M254 170.5h1M256.5 148V191M255 163.5h1M257 154.5h1M259.5 145V171M258 161.5h1M260 163.5h1M262.5 129V190M261 174.5h1M263 189.5h1M265.5 174V191M264 190.5h1M266 185.5h1M268.5 171V195M267 186.5h1M269 174.5h1M271.5 169V186M270 170.5h1M272 169.5h1M274.5 146V165M273 164.5h1M275 146.5h1M277.5 134V165M276 149.5h1M278 164.5h1M280.5 147V207M279 162.5h1M281 206.5h1M283.5 199V254M282 222.5h1M284 247.5h1M286.5 214V258M285 244.5h1M287 228.5h1M289.5 206V233M288 224.5h1M290 232.5h1M292.5 211V266M291 222.5h1M293 265.5h1M295.5 261V297M294 273.5h1M296 285.5h1M298.5 263V304M297 285.5h1M299 286.5h1M301.5 255V305M300 295.5h1M302 284.5h1M304.5 265V297M303 287.5h1M305 265.5h1M307.5 246V281M306 271.5h1M308 273.5h1M310.5 248V285M309 273.5h1M311 270.5h1M313.5 247V285M312 276.5h1M314 247.5h1M316.5 197V263M315 259.5h1M317 197.5h1M319.5 189V207M318 196.5h1M320 206.5h1M322.5 189V244M321 220.5h1M323 243.5h1M325.5 220V291M324 229.5h1M326 290.5h1M328.5 270V300M327 284.5h1M329 270.5h1M331.5 244V281M330 277.5h1M332 258.5h1M334.5 231V272M333 266.5h1M335 247.5h1M337.5 241V269M336 250.5h1M338 261.5h1M340.5 245V265M339 262.5h1M341 245.5h1M343.5 214V265M342 230.5h1M344 229.5h1M346.5 212V264M345 233.5h1M347 257.5h1M349.5 236V255M348 254.5h1M350 236.5h1M352.5 198V257M351 249.5h1M353 234.5h1M355.5 203V269M354 222.5h1M356 251.5h1M358.5 224V259M357 247.5h1M359 224.5h1M361.5 206V252M360 227.5h1M362 251.5h1M364.5 239V284M363 249.5h1M365 272.5h1M367.5 264V290M366 278.5h1M368 289.5h1M370.5 277V311M369 288.5h1M371 303.5h1M373.5 290V322M372 311.5h1M374 318.5h1M376.5 295V340M375 330.5h1M377 311.5h1M379.5 287V340M378 312.5h1M380 302.5h1M382.5 285V320M381 292.5h1M383 302.5h1M385.5 274V330M384 292.5h1M386 297.5h1M388.5 285V315M387 303.5h1M389 285.5h1M391.5 269V295M390 285.5h1M392 287.5h1M394.5 273V310M393 288.5h1M395 281.5h1M397.5 258V298M396 282.5h1M398 296.5h1M400.5 287V312M399 300.5h1M401 293.5h1M403.5 270V317M402 295.5h1M404 273.5h1M406.5 258V308M405 267.5h1M407 281.5h1M409.5 270V305M408 281.5h1M410 287.5h1M412.5 259V306M411 294.5h1M413 259.5h1M415.5 214V277M414 257.5h1M416 270.5h1M418.5 235V280M417 270.5h1M419 252.5h1M421.5 236V264M420 255.5h1M422 237.5h1M424.5 224V251M423 238.5h1M425 250.5h1M427.5 234V288M426 264.5h1M428 260.5h1M430.5 235V287M429 272.5h1M431 235.5h1M433.5 188V248M432 226.5h1M434 188.5h1M436.5 149V190M435 189.5h1M437 177.5h1M439.5 157V196M438 169.5h1M440 181.5h1M442.5 146V203M441 179.5h1M443 146.5h1M445.5 128V167M444 140.5h1M446 128.5h1M448.5 91V128M447 127.5h1M449 124.5h1M451.5 67V196M450 154.5h1M452 142.5h1M454.5 77V171M453 154.5h1M455 161.5h1M457.5 131V224M456 141.5h1M458 207.5h1M460.5 178V223M459 220.5h1M461 222.5h1M463.5 182V246M462 239.5h1M464 234.5h1M466.5 222V264M465 233.5h1M467 223.5h1M469.5 205V246M468 231.5h1M470 234.5h1M472.5 205V243M471 232.5h1M473 205.5h1M475.5 166V242M474 198.5h1M476 205.5h1M478.5 167V243M477 197.5h1M479 210.5h1M481.5 205V239M480 205.5h1M482 238.5h1M484.5 238V270M483 238.5h1M485 256.5h1M487.5 231V279M486 251.5h1M488 250.5h1M490.5 242V282M489 250.5h1M491 257.5h1M493.5 230V279M492 271.5h1M494 248.5h1M496.5 243V274M495 256.5h1M497 256.5h1M499.5 229V275M498 250.5h1M500 229.5h1M502.5 208V258M501 237.5h1M503 208.5h1M505.5 188V229M504 199.5h1M506 216.5h1M508.5 195V246M507 228.5h1M509 214.5h1M511.5 195V237M510 208.5h1M512 236.5h1M514.5 230V257M513 243.5h1M515 254.5h1M517.5 243V276M516 258.5h1M518 274.5h1M520.5 256V290M519 265.5h1M521 256.5h1M523.5 232V268M522 254.5h1M524 232.5h1M526.5 211V246M525 241.5h1M527 213.5h1M529.5 212V230M528 216.5h1M530 229.5h1M532.5 226V279M531 240.5h1M533 273.5h1M535.5 271V297M534 278.5h1M536 296.5h1M538.5 294V336M537 294.5h1M539 323.5h1M541.5 306V342M540 332.5h1M542 335.5h1M544.5 317V353M543 327.5h1M545 324.5h1M547.5 314V343M546 320.5h1M548 337.5h1M550.5 318V356M549 329.5h1M551 318.5h1M553.5 300V348M552 310.5h1M554 313.5h1M556.5 305V344M555 309.5h1M557 325.5h1M559.5 306V352M558 319.5h1M560 351.5h1M562.5 341V375M561 345.5h1M563 374.5h1M565.5 369V390M564 369.5h1M566 389.5h1M568.5 377V427M567 377.5h1M569 426.5h1M571.5 419V465M570 427.5h1M572 452.5h1M574.5 413V481M573 451.5h1M575 429.5h1M577.5 418V462M576 419.5h1M578 446.5h1M580.5 419V456M579 445.5h1M581 455.5h1M583.5 435V476M582 463.5h1M584 435.5h1M586.5 387V471M585 435.5h1M587 405.5h1M589.5 395V424M588 413.5h1M590 395.5h1M592.5 366V419M591 405.5h1M593 406.5h1M595.5 393V429M594 409.5h1M596 425.5h1M598.5 400V445M597 421.5h1M599 408.5h1M601.5 379V443M600 394.5h1M602 379.5h1M604.5 368V407M603 384.5h1M605 381.5h1M607.5 371V407M606 374.5h1M608 393.5h1M610.5 378V417M609 401.5h1M611 400.5h1M613.5 378V439M612 406.5h1M614 411.5h1M616.5 380V421M615 405.5h1M617 405.5h1M619.5 387V433M618 404.5h1M620 432.5h1M622.5 413V463M621 430.5h1M623 437.5h1M625.5 426V465M624 447.5h1M626 426.5h1M628.5 408V439M627 427.5h1M629 426.5h1M631.5 403V436M630 435.5h1M632 414.5h1M634.5 393V443M633 410.5h1M635 401.5h1M637.5 393V420M636 399.5h1M638 409.5h1M640.5 406V427M639 409.5h1M641 426.5h1M643.5 412V456M642 426.5h1M644 449.5h1M646.5 440V471M645 445.5h1M647 440.5h1M649.5 418V471M648 437.5h1M650 418.5h1M652.5 413V439M651 413.5h1M653 429.5h1M655.5 414V457M654 422.5h1M656 427.5h1M658.5 405V458M657 427.5h1M659 408.5h1M661.5 389V424M660 412.5h1M662 421.5h1M664.5 396V438M663 430.5h1M665 429.5h1M667.5 409V440M666 425.5h1M668 412.5h1M670.5 396V434M669 405.5h1M671 399.5h1M673.5 375V406M672 401.5h1M674 383.5h1M676.5 363V397M675 389.5h1M677 367.5h1M679.5 360V390M678 369.5h1M680 387.5h1M682.5 370V394M681 391.5h1M683 370.5h1M685.5 327V386M684 371.5h1M686 327.5h1M688.5 313V355M687 335.5h1M689 330.5h1M691.5 318V343M690 335.5h1M692 342.5h1M694.5 326V361M693 350.5h1M695 358.5h1M697.5 339V376M696 363.5h1M698 375.5h1M700.5 358V390M699 366.5h1M701 380.5h1M703.5 370V399M702 378.5h1M704 374.5h1M706.5 361V398M705 381.5h1M707 366.5h1M709.5 355V392M708 369.5h1M710 385.5h1M712.5 370V398M711 388.5h1M713 387.5h1M715.5 367V403M714 376.5h1M716 381.5h1M718.5 363V401M717 387.5h1M719 376.5h1M721.5 357V386M720 377.5h1M722 367.5h1M724.5 356V378M723 361.5h1M725 369.5h1M727.5 348V388M726 364.5h1M728 386.5h1M730.5 371V392M729 383.5h1M731 385.5h1M733.5 374V406M732 380.5h1M734 405.5h1M736.5 405V419M735 409.5h1M737 418.5h1M739.5 412V429M738 417.5h1M740 420.5h1M742.5 412V429M741 422.5h1M743 414.5h1M745.5 405V424M744 415.5h1M746 423.5h1M748.5 409V439M747 416.5h1M749 435.5h1M751.5 426V441M750 433.5h1M752 426.5h1M754.5 416V435M753 424.5h1M755 434.5h1M757.5 422V446M756 427.5h1M758 445.5h1M760.5 442V453M759 444.5h1M761 447.5h1M763.5 440V459M762 449.5h1M764 458.5h1M766.5 446V469M765 455.5h1M767 446.5h1M769.5 435V452M768 446.5h1M770 446.5h1M772.5 433V459M771 440.5h1M773 439.5h1M775.5 431V448M774 436.5h1M776 443.5h1M778.5 430V452M777 449.5h1M779 435.5h1M781.5 412V449M780 434.5h1M782 412.5h1M784.5 396V418M783 417.5h1M785 401.5h1M787.5 389V408M786 399.5h1M788 389.5h1M790.5 376V403M789 396.5h1M791 389.5h1M793.5 379V408M792 390.5h1M794 398.5h1M796.5 392V413M795 398.5h1M797 404.5h1M799.5 395V421M798 398.5h1M800 420.5h1M802.5 415V433M801 420.5h1M803 415.5h1M805.5 390V433M804 420.5h1M806 411.5h1M808.5 388V419M807 418.5h1M809 418.5h1M811.5 417V443M810 417.5h1M812 438.5h1M814.5 430V447M813 438.5h1M815 430.5h1M817.5 419V447M816 427.5h1M818 427.5h1M820.5 416V440M819 425.5h1M821 416.5h1M823.5 389V429M822 424.5h1M824 393.5h1M826.5 388V407M825 396.5h1M827 403.5h1M829.5 400V416M828 400.5h1M830 400.5h1M832.5 356V412M831 407.5h1M833 379.5h1M835.5 359V376M834 375.5h1M836 368.5h1M838.5 350V381M837 367.5h1M839 368.5h1M841.5 358V383M840 369.5h1M842 367.5h1M844.5 341V383M843 366.5h1M845 341.5h1M847.5 335V353M846 336.5h1M848 335.5h1M850.5 324V348M849 340.5h1M851 334.5h1M853.5 328V349M852 339.5h1M854 335.5h1M856.5 327V348M855 332.5h1M857 327.5h1M859.5 302V335M858 321.5h1M860 304.5h1M862.5 298V311M861 307.5h1M863 306.5h1M865.5 296V318M864 309.5h1M866 317.5h1M868.5 310V331M867 322.5h1M869 319.5h1M871.5 304V332M870 319.5h1M872 329.5h1M874.5 307V341M873 320.5h1M875 307.5h1M877.5 287V315M876 306.5h1M878 300.5h1M880.5 289V306M879 302.5h1M881 297.5h1M883.5 281V310M882 290.5h1M884 295.5h1M886.5 289V308M885 291.5h1M887 298.5h1M889.5 283V306M888 296.5h1M890 293.5h1M892.5 283V304M891 296.5h1M893 303.5h1M895.5 303V333M894 303.5h1M896 325.5h1M898.5 311V327M897 323.5h1M899 311.5h1M901.5 298V320M900 310.5h1M902 307.5h1M904.5 288V325M903 300.5h1M905 288.5h1M907.5 261V299M906 297.5h1M908 263.5h1M910.5 260V277M909 260.5h1M911 261.5h1M913.5 251V273M912 268.5h1M914 261.5h1M916.5 245V270M915 256.5h1M917 260.5h1M919.5 250V273M918 255.5h1M920 256.5h1M922.5 249V270M921 251.5h1M923 251.5h1M925.5 241V266M924 248.5h1M926 243.5h1M928.5 236V258M927 248.5h1M929 255.5h1M931.5 244V265M930 254.5h1M932 258.5h1M934.5 244V269M933 259.5h1M935 248.5h1M937.5 240V260M936 247.5h1M938 246.5h1M940.5 240V255M939 244.5h1M941 245.5h1M943.5 238V260M942 241.5h1M944 259.5h1M946.5 242V269M945 261.5h1M947 268.5h1M949.5 259V282M948 264.5h1M950 276.5h1M952.5 263V282M951 273.5h1M953 263.5h1M955.5 240V275M954 262.5h1M956 240.5h1M958.5 226V248M957 244.5h1M959 233.5h1M961.5 221V235M960 229.5h1M962 230.5h1M964.5 220V235M963 232.5h1M965 220.5h1M967.5 216V231M966 220.5h1M968 228.5h1M970.5 214V238M969 221.5h1M971 220.5h1M973.5 211V228M972 224.5h1M974 224.5h1M976.5 216V235M975 228.5h1M977 229.5h1M979.5 216V236M978 226.5h1M980 216.5h1M982.5 192V231M981 208.5h1M983 195.5h1M985.5 194V211M984 196.5h1M986 199.5h1M988.5 191V208M987 201.5h1M989 196.5h1M991.5 188V199M990 198.5h1M992 193.5h1M994.5 183V204M993 194.5h1M995 189.5h1M997.5 177V203M996 193.5h1M998 202.5h1M1000.5 194V226M999 210.5h1M1001 225.5h1M1003.5 224V242M1002 224.5h1M1004 224.5h1M1006.5 182V239M1005 216.5h1M1007 182.5h1M1009.5 153V184M1008 183.5h1M1010 183.5h1M1012.5 168V235M1011 168.5h1M1013 210.5h1M1015.5 207V240M1014 212.5h1M1016 219.5h1M1018.5 198V241M1017 212.5h1M1019 219.5h1M1021.5 205V238M1020 209.5h1M1022 237.5h1M1024.5 232V272M1023 236.5h1M1025 268.5h1M1027.5 265V280M1026 269.5h1M1028 279.5h1M1030.5 262V297M1029 278.5h1M1031 293.5h1M1033.5 280V295M1032 291.5h1M1034 280.5h1M1036.5 271V292M1035 282.5h1M1037 279.5h1M1039.5 265V285M1038 274.5h1M1040 267.5h1M1042.5 255V283M1041 269.5h1M1043 264.5h1M1045.5 248V280M1044 259.5h1M1046 252.5h1M1048.5 246V261M1047 255.5h1M1049 260.5h1M1051.5 248V271M1050 254.5h1M1052 255.5h1M1054.5 244V273M1053 253.5h1M1055 249.5h1M1057.5 242V261M1056 246.5h1M1058 260.5h1M1060.5 255V304M1059 267.5h1M1061 303.5h1M1063.5 299V320M1062 299.5h1M1064 308.5h1M1066.5 294V324M1065 305.5h1M1067 294.5h1M1069.5 261V296M1068 289.5h1M1070 262.5h1M1072.5 249V265M1071 264.5h1M1073 249.5h1M1075.5 238V265M1074 256.5h1M1076 247.5h1M1078.5 238V263M1077 243.5h1M1079 262.5h1M1081.5 252V292M1080 260.5h1M1082 291.5h1M1084.5 284V316M1083 299.5h1M1085 301.5h1M1087.5 287V311M1086 300.5h1M1088 303.5h1M1090.5 295V321M1089 311.5h1M1091 295.5h1M1093.5 283V304M1092 290.5h1M1094 283.5h1M1096.5 272V298M1095 281.5h1M1097 281.5h1M1099.5 270V304M1098 289.5h1M1100 272.5h1M1102.5 253V279M1101 278.5h1M1103 268.5h1M1105.5 253V278M1104 266.5h1M1106 253.5h1M1108.5 214V263M1107 262.5h1M1109 214.5h1M1111.5 204V219M1110 210.5h1M1112 218.5h1M1114.5 214V228M1113 217.5h1M1115 224.5h1M1117.5 212V235M1116 222.5h1M1118 216.5h1M1120.5 209V227M1119 211.5h1M1121 209.5h1M1123.5 176V211M1122 206.5h1M1124 176.5h1M1126.5 169V192M1125 171.5h1M1127 183.5h1M1129.5 168V190M1128 180.5h1M1130 187.5h1M1132.5 170V194M1131 191.5h1M1133 170.5h1M1135.5 156V179M1134 169.5h1M1136 178.5h1M1138.5 162V206M1137 177.5h1M1139 190.5h1M1141.5 191V209M1140 194.5h1M1142 208.5h1M1144.5 198V241M1143 205.5h1M1145 218.5h1M1147.5 208V242M1146 209.5h1M1148 231.5h1M1150.5 213V236M1149 235.5h1M1151 228.5h1M1153.5 211V249M1152 218.5h1M1154 221.5h1M1156.5 201V233M1155 213.5h1M1157 201.5h1M1159.5 178V200M1158 198.5h1M1160 185.5h1M1162.5 167V195M1161 191.5h1M1163 182.5h1M1165.5 170V188M1164 180.5h1M1166 187.5h1M1168.5 180V226M1167 190.5h1M1169 225.5h1M1171.5 212V239M1170 228.5h1M1172 222.5h1M1174.5 212V241M1173 219.5h1M1175 212.5h1M1177.5 193V222M1176 216.5h1M1178 194.5h1M1180.5 185V218M1179 197.5h1M1181 193.5h1M1183.5 177V197M1182 187.5h1M1184 185.5h1M1186.5 161V202M1185 185.5h1M1187 161.5h1M1189.5 150V169M1188 166.5h1M1190 168.5h1M1192.5 163V181M1191 165.5h1M1193 163.5h1M1195.5 154V175M1194 163.5h1M1196 163.5h1M1198.5 146V182M1197 156.5h1M1199 181.5h1M1201.5 156V195M1200 186.5h1M1202 194.5h1M1204.5 184V207M1203 198.5h1M1205 200.5h1M1207.5 191V203M1206 199.5h1M1208 202.5h1M1210.5 196V271M1209 196.5h1M1211 256.5h1M1213.5 244V282M1212 246.5h1M1214 281.5h1M1216.5 256V303M1215 288.5h1M1217 284.5h1M1219.5 274V309M1218 275.5h1M1220 285.5h1M1222.5 273V307M1221 286.5h1M1223 276.5h1M1225.5 272V297M1224 283.5h1M1226 273.5h1M1228.5 261V290M1227 281.5h1M1229 275.5h1M1231.5 251V289M1230 266.5h1M1232 252.5h1M1234.5 241V272M1233 251.5h1M1235 241.5h1M1237.5 228V260M1236 240.5h1M1238 230.5h1M1240.5 211V243M1239 228.5h1M1241 235.5h1M1243.5 216V263M1242 240.5h1M1244 260.5h1M1246.5 240V275M1245 267.5h1M1247 274.5h1M1249.5 264V283M1248 270.5h1M1250 264.5h1M1252.5 238V271M1251 260.5h1M1253 239.5h1M1255.5 210V258M1254 235.5h1M1256 210.5h1M1258.5 190V216M1257 205.5h1M1259 213.5h1M1261.5 190V231M1260 207.5h1M1262 230.5h1M1264.5 219V256M1263 238.5h1M1265 254.5h1M1267.5 248V273M1266 251.5h1M1268 257.5h1M1270.5 241V271M1269 265.5h1M1271 241.5h1M1273.5 227V248M1272 238.5h1M1274 232.5h1M1276.5 219V245M1275 234.5h1M1277 243.5h1M1279.5 216V263M1278 232.5h1M1280 235.5h1M1282.5 202V246M1281 243.5h1M1283 245.5h1M1285.5 236V256M1284 250.5h1M1286 236.5h1M1288.5 215V250M1287 232.5h1M1289 215.5h1M1291.5 208V232M1290 211.5h1M1292 231.5h1M1294.5 222V281M1293 234.5h1M1295 280.5h1M1297.5 265V289M1296 278.5h1M1298 266.5h1M1300.5 236V288M1299 265.5h1M1301 255.5h1M1303.5 232V261M1302 260.5h1M1304 237.5h1M1306.5 231V252M1305 233.5h1M1307 245.5h1" stroke="#000" stroke-width="1" fill="none"/><path d="M4.3 451.0 C6.4 448.8 12.8 443.7 17.2 437.8 C21.6 431.9 26.0 422.8 30.9 415.4 C35.8 407.9 41.7 399.7 46.4 393.1 C51.1 386.5 54.7 381.2 59.3 375.9 C63.9 370.6 69.8 364.2 73.9 361.3 C78.1 358.4 79.3 359.7 84.2 358.7 C89.1 357.7 97.6 357.3 103.1 355.2 C108.5 353.1 112.6 348.5 116.9 345.8 C121.2 343.1 126.2 340.0 128.9 338.9 C131.6 337.8 130.9 338.3 133.2 339.3 C135.5 340.3 139.4 344.7 142.7 344.9 C146.0 345.1 148.7 340.0 153.0 340.3 C157.3 340.6 163.9 345.0 168.5 346.6 C173.1 348.2 176.8 348.1 180.5 350.1 C184.2 352.1 187.1 357.3 190.8 358.7 C194.5 360.1 198.6 359.1 202.9 358.7 C207.2 358.3 212.0 358.0 216.6 356.1 C221.2 354.2 227.3 350.4 230.4 347.5 C233.5 344.6 232.4 343.9 235.2 338.4 C238.0 332.9 243.2 321.5 247.2 314.3 C251.2 307.1 254.0 302.0 259.2 295.4 C264.4 288.8 273.8 278.5 278.1 274.8 C282.4 271.1 282.1 274.8 285.0 273.1 C287.9 271.4 290.7 267.5 295.3 264.5 C299.9 261.5 307.9 258.1 312.5 255.0 C317.1 251.8 319.4 248.2 322.8 245.6 C326.2 243.0 330.2 241.1 333.1 239.5 C336.0 237.9 337.1 237.9 340.0 236.1 C342.9 234.2 346.9 230.1 350.3 228.4 C353.8 226.7 357.2 226.1 360.7 225.8 C364.1 225.5 367.9 225.8 371.0 226.6 C374.1 227.4 376.7 229.8 379.6 230.9 C382.5 232.1 384.5 231.5 388.2 233.5 C391.9 235.5 397.3 239.7 401.9 243.0 C406.5 246.3 412.0 251.0 415.7 253.3 C419.4 255.6 421.7 255.3 424.3 256.7 C426.9 258.1 428.2 261.5 431.1 261.9 C434.0 262.3 437.7 261.6 441.4 259.3 C445.1 257.0 450.1 250.5 453.5 248.1 C456.9 245.7 457.4 245.8 462.1 245.0 C466.8 244.2 474.9 244.1 481.8 243.6 C488.7 243.1 496.7 242.4 503.6 242.2 C510.5 242.0 518.1 242.9 523.2 242.2 C528.3 241.5 530.2 238.2 534.2 237.9 C538.2 237.7 543.2 240.0 547.2 240.7 C551.2 241.4 554.5 240.6 558.1 242.2 C561.7 243.8 565.4 246.8 569.0 250.5 C572.6 254.2 575.6 258.9 580.0 264.7 C584.4 270.5 590.9 278.7 595.2 285.4 C599.6 292.1 602.1 298.9 606.1 305.1 C610.1 311.3 614.5 316.3 619.2 322.5 C623.9 328.7 629.0 335.6 634.5 342.1 C640.0 348.7 646.4 355.2 651.9 361.8 C657.4 368.4 661.8 375.8 667.2 381.4 C672.7 387.0 679.2 392.7 684.6 395.6 C690.0 398.5 694.4 397.2 699.9 398.8 C705.4 400.4 712.3 404.7 717.4 405.0 C722.5 405.3 726.1 401.8 730.4 400.6 C734.7 399.4 738.7 397.9 743.0 397.8 C747.3 397.7 751.5 398.8 756.2 400.0 C760.9 401.2 767.0 404.3 771.4 405.0 C775.8 405.7 778.3 404.8 782.3 404.3 C786.3 403.8 791.0 402.7 795.4 402.1 C799.8 401.5 803.0 400.7 808.5 400.6 C814.0 400.5 820.3 401.4 828.1 401.5 C835.9 401.6 849.2 402.3 855.4 401.5 C861.6 400.7 860.7 399.0 865.2 396.7 C869.8 394.4 877.6 390.5 882.7 387.9 C887.8 385.3 890.7 385.0 895.8 381.0 C900.9 377.0 908.1 369.4 913.2 364.0 C918.3 358.6 921.9 353.8 926.3 348.7 C930.7 343.6 935.8 337.0 939.4 333.4 C943.0 329.8 944.5 330.2 948.1 326.9 C951.7 323.6 956.8 319.2 961.2 313.8 C965.6 308.4 969.9 300.2 974.3 294.2 C978.7 288.2 983.1 282.8 987.4 277.8 C991.7 272.8 996.3 267.8 1000.0 264.3 C1003.7 260.8 1005.6 259.3 1009.5 256.7 C1013.4 254.1 1018.9 250.4 1023.6 248.5 C1028.3 246.6 1033.8 246.1 1037.8 245.4 C1041.8 244.7 1043.8 245.1 1047.3 244.4 C1050.8 243.7 1055.9 241.7 1059.1 241.4 C1062.2 241.1 1062.7 242.3 1066.2 242.6 C1069.8 242.9 1075.7 242.1 1080.4 243.0 C1085.1 243.9 1090.3 247.2 1094.6 248.0 C1098.9 248.8 1102.5 248.2 1106.4 247.8 C1110.3 247.4 1113.1 246.4 1118.2 245.4 C1123.3 244.4 1131.2 242.0 1137.1 241.8 C1143.0 241.6 1147.0 243.8 1153.7 244.0 C1160.4 244.2 1171.4 244.0 1177.3 242.8 C1183.2 241.6 1185.5 238.9 1189.1 236.6 C1192.6 234.3 1195.2 230.9 1198.6 228.8 C1201.9 226.7 1204.5 224.7 1209.2 223.9 C1213.9 223.1 1222.5 223.9 1227.0 224.1 C1231.5 224.3 1233.7 225.4 1236.4 225.0 C1239.2 224.6 1240.3 222.7 1243.5 221.7 C1246.7 220.7 1252.3 219.8 1255.3 218.9 C1258.2 218.0 1258.0 216.6 1261.2 216.5 C1264.4 216.4 1270.5 217.7 1274.2 218.4 C1278.0 219.1 1280.2 219.3 1283.7 220.8 C1287.2 222.3 1291.8 226.0 1295.5 227.2 C1299.2 228.4 1304.3 227.8 1306.1 227.9" stroke="#D80808" stroke-width="2.1" fill="none" stroke-linejoin="round" shape-rendering="geometricPrecision"/><path d="M4.1 633.9 L7.4 633.9 L12.4 627.3 L17.3 620.7 L21.4 618.7 L26.4 627.3 L31.3 633.1 L33.8 638.0 L37.1 625.7 L39.5 625.7 L46.1 613.3 L52.7 605.9 L54.4 592.7 L56.8 595.2 L61.0 595.2 L66.7 584.8 L69.2 587.8 L73.3 587.8 L77.4 577.9 L82.4 564.7 L84.8 564.7 L89.0 568.8 L94.7 579.5 L98.8 580.4 L103.0 583.2 L109.6 600.1 L113.7 603.4 L118.6 603.4 L121.9 600.1 L129.3 612.0 L131.8 610.8 L140.0 596.0 L143.3 596.0 L154.0 611.2 L160.6 599.3 L165.6 592.7 L170.5 588.6 L174.6 584.2 L176.3 585.3 L181.2 609.2 L183.7 611.7 L187.0 596.8 L189.5 599.3 L194.4 599.3 L197.7 601.3 L204.3 611.7 L206.8 611.7 L209.2 610.0 L211.7 610.0 L214.2 615.8 L217.5 615.0 L219.9 616.1 L223.2 619.9 L225.0 618.3 L228.3 616.6 L233.2 620.7 L236.5 620.7 L238.2 617.4 L240.7 619.1 L244.8 626.5 L247.2 626.5 L249.7 621.9 L256.3 632.3 L262.1 638.0 L267.8 634.2 L273.6 629.8 L277.7 640.5 L281.0 640.5 L286.0 614.1 L289.3 605.9 L295.0 604.6 L298.3 590.7 L302.4 591.1 L305.7 594.4 L314.0 594.4 L320.6 615.0 L323.8 616.6 L325.5 616.6 L328.0 596.0 L330.4 600.6 L333.7 601.0 L337.0 605.9 L342.0 603.9 L346.1 608.9 L349.4 608.9 L351.9 606.7 L355.1 610.8 L358.4 600.6 L361.7 604.3 L368.3 577.1 L373.3 554.8 L379.0 554.8 L383.2 561.1 L385.6 561.1 L388.1 557.8 L391.4 559.8 L394.7 560.1 L397.2 564.7 L401.3 562.2 L406.2 556.5 L409.5 570.5 L412.0 571.3 L416.1 588.1 L421.9 591.1 L424.3 596.8 L430.1 596.0 L433.4 600.1 L439.2 617.4 L445.8 629.8 L450.7 640.5 L452.5 645.4 L454.1 661.1 L457.4 648.7 L461.5 638.8 L465.7 624.8 L469.8 619.9 L473.9 618.7 L478.0 624.0 L481.3 619.1 L483.8 603.4 L486.2 600.1 L492.8 587.0 L497.8 592.7 L501.1 601.0 L505.2 617.4 L508.5 622.7 L511.8 622.4 L517.5 601.0 L520.8 594.4 L523.3 583.2 L526.6 596.0 L529.1 604.3 L532.4 607.5 L534.8 597.7 L537.3 574.6 L540.6 564.7 L543.9 562.2 L546.4 568.8 L552.1 569.7 L554.6 574.6 L556.3 585.8 L558.7 568.8 L562.0 566.4 L568.6 557.3 L573.6 555.7 L576.9 554.8 L581.8 558.9 L587.6 557.3 L591.7 563.9 L595.0 569.7 L599.9 556.1 L601.6 556.5 L606.5 571.3 L609.8 569.7 L613.1 576.2 L615.6 570.5 L618.9 575.4 L622.2 562.2 L626.3 554.8 L629.6 558.9 L637.0 577.1 L639.5 577.1 L644.4 570.5 L646.9 568.8 L649.3 562.2 L652.6 576.2 L655.1 582.8 L658.4 577.1 L660.9 608.4 L664.2 615.0 L669.9 604.3 L674.1 623.2 L677.3 637.2 L681.6 637.2 L684.1 640.5 L687.4 655.3 L690.7 672.6 L693.9 665.2 L697.2 667.7 L704.7 661.1 L707.1 661.1 L709.6 665.2 L714.5 660.3 L718.2 652.0 L720.3 658.6 L723.6 678.4 L727.7 678.4 L730.2 672.6 L733.5 671.8 L736.8 661.1 L741.7 645.4 L745.8 638.8 L752.4 625.7 L755.7 623.2 L759.8 622.9 L764.0 617.4 L768.1 618.3 L772.2 615.8 L775.5 619.9 L779.6 621.5 L782.9 625.7 L786.2 642.1 L788.7 655.3 L792.8 678.4 L798.6 677.6 L805.1 670.1 L808.4 676.7 L813.4 660.3 L816.7 649.6 L820.0 630.6 L823.3 641.3 L826.6 653.7 L829.0 655.3 L831.5 661.9 L835.6 678.4 L871.0 678.4 L873.5 668.5 L877.6 670.1 L886.7 678.4 L893.3 678.4 L898.2 667.7 L901.5 666.9 L904.1 667.2 L907.4 675.1 L910.7 677.6 L916.5 675.4 L924.7 673.4 L931.3 663.9 L938.7 661.1 L943.7 660.3 L946.1 652.9 L953.5 643.8 L956.0 644.6 L961.0 657.8 L964.3 658.6 L967.5 663.6 L976.6 663.6 L979.1 661.9 L984.8 661.9 L988.1 671.8 L992.3 671.0 L995.6 669.8 L999.7 671.8 L1002.1 671.0 L1006.3 666.0 L1008.7 669.3 L1012.0 671.8 L1015.3 656.1 L1021.1 647.1 L1024.4 635.6 L1031.8 624.0 L1035.9 629.8 L1040.0 629.3 L1045.0 633.9 L1049.1 643.8 L1054.0 645.4 L1057.3 654.5 L1060.6 654.5 L1063.9 632.3 L1067.2 618.3 L1070.5 619.9 L1074.6 642.1 L1077.9 644.6 L1081.2 644.6 L1086.2 618.3 L1093.6 605.9 L1097.7 610.0 L1101.8 617.4 L1105.9 618.3 L1112.5 643.8 L1115.8 646.8 L1121.6 651.2 L1125.7 652.0 L1129.9 657.0 L1134.8 660.2 L1138.1 657.8 L1141.4 648.0 L1144.6 642.2 L1147.1 612.0 L1152.8 602.7 L1155.3 603.8 L1159.4 614.4 L1163.4 621.8 L1167.5 624.2 L1170.0 617.7 L1174.1 603.8 L1180.6 603.8 L1186.3 624.2 L1189.6 645.5 L1193.7 646.0 L1197.0 648.0 L1201.1 648.8 L1204.3 637.3 L1206.8 636.5 L1210.1 629.2 L1213.3 600.5 L1216.6 589.9 L1219.9 589.4 L1223.2 583.4 L1228.1 576.0 L1233.0 585.8 L1237.9 592.3 L1242.8 597.3 L1246.9 589.9 L1250.1 578.0 L1252.6 578.4 L1255.9 590.7 L1260.8 622.6 L1264.0 622.6 L1269.0 598.1 L1270.6 580.9 L1273.0 571.9 L1275.5 576.8 L1278.8 592.3 L1284.5 593.2 L1288.6 601.3 L1291.9 605.1 L1295.1 604.6 L1296.8 574.4 L1300.9 568.6 L1303.4 556.4 L1305.8 553.9" stroke="#0A0A60" stroke-width="2" fill="none" stroke-linejoin="round"/><path d="M4.3 805.0 L10.8 805.0 L15.7 800.1 L18.6 806.0 L21.6 806.0 L25.1 793.8 L28.5 807.0 L34.4 801.7 L37.3 828.6 L40.2 824.7 L43.2 824.7 L46.5 815.8 L49.1 819.7 L55.0 866.9 L58.9 850.2 L61.8 849.2 L64.8 857.0 L67.7 857.0 L72.6 854.1 L75.6 859.0 L78.5 868.8 L82.4 868.8 L85.4 850.2 L88.3 851.2 L91.3 868.8 L94.2 868.8 L100.1 862.9 L103.1 859.0 L107.0 842.3 L109.9 838.4 L112.9 838.4 L118.8 830.5 L121.7 834.5 L127.6 823.7 L130.5 825.6 L133.5 837.4 L139.4 856.1 L145.3 856.1 L151.2 843.3 L157.0 837.4 L161.0 846.2 L165.9 848.2 L168.8 845.3 L175.7 844.3 L180.6 828.6 L184.5 835.5 L187.5 851.2 L191.4 846.2 L194.4 846.2 L202.2 833.5 L208.1 835.5 L211.1 840.4 L214.0 836.4 L217.9 836.4 L223.8 827.2 L228.9 834.5 L232.9 824.1 L235.8 823.7 L240.7 808.0 L244.6 809.9 L250.5 819.7 L256.4 808.0 L262.3 798.5 L270.2 804.0 L274.1 804.0 L280.0 790.7 L282.9 796.2 L289.8 830.5 L293.7 831.5 L296.7 830.9 L299.6 835.1 L302.5 834.5 L310.4 817.8 L313.3 833.9 L316.3 833.5 L319.2 822.7 L325.1 817.4 L328.1 835.1 L331.0 823.7 L335.9 826.6 L341.8 836.4 L347.7 828.0 L350.6 829.6 L354.6 824.7 L358.5 833.5 L362.4 837.4 L365.4 841.3 L370.3 868.8 L376.2 868.8 L380.1 862.9 L388.0 857.0 L395.8 837.4 L399.7 822.7 L406.6 851.2 L413.5 843.3 L415.4 826.6 L419.3 818.8 L427.2 806.0 L433.1 808.0 L437.0 778.5 L440.9 751.0 L442.9 741.6 L445.8 750.1 L448.8 745.2 L450.0 740.2 L453.9 720.6 L456.9 722.6 L459.8 734.9 L462.8 732.4 L465.7 726.5 L467.7 732.4 L471.6 751.0 L476.5 748.7 L480.4 750.1 L484.4 770.7 L487.3 775.0 L493.2 756.9 L496.1 771.7 L499.1 767.7 L503.0 753.0 L506.9 728.5 L509.9 731.4 L513.8 727.5 L517.7 734.4 L522.6 762.4 L525.6 758.9 L528.5 741.2 L535.4 733.8 L539.3 746.1 L543.2 754.0 L545.2 753.0 L547.2 742.2 L550.1 739.3 L553.1 726.5 L556.0 713.3 L559.0 735.3 L561.9 784.4 L564.8 791.9 L569.7 787.4 L573.7 784.8 L577.6 785.8 L581.5 776.6 L585.5 772.2 L589.4 770.7 L595.3 757.9 L598.2 762.8 L601.2 784.4 L605.1 778.5 L612.9 760.9 L616.9 771.7 L619.8 770.7 L627.7 784.8 L634.5 760.9 L639.4 750.6 L643.4 749.1 L646.3 741.6 L652.2 768.7 L655.1 763.8 L658.1 767.1 L661.0 729.4 L664.0 716.7 L667.9 720.6 L671.8 718.6 L674.8 712.8 L678.9 712.8 L681.9 724.5 L687.8 713.7 L690.7 712.8 L694.6 725.9 L700.5 727.1 L703.5 732.4 L706.4 732.4 L709.4 722.6 L713.3 729.1 L716.2 729.4 L718.2 758.9 L722.1 731.4 L727.0 713.7 L731.9 722.6 L733.9 723.6 L737.8 733.4 L741.7 748.1 L747.6 756.9 L752.5 757.9 L755.5 762.8 L757.4 776.6 L761.4 782.4 L763.3 781.5 L766.3 774.6 L770.2 775.6 L772.2 774.6 L776.1 762.8 L779.0 762.8 L782.0 765.8 L784.9 756.9 L788.9 736.3 L790.8 721.6 L793.8 712.8 L802.6 712.8 L805.5 718.6 L808.5 716.1 L812.4 740.2 L814.4 755.9 L817.3 760.9 L820.3 782.8 L826.2 756.5 L830.1 756.9 L832.0 759.9 L836.0 742.2 L837.9 741.2 L843.8 741.2 L846.8 729.4 L850.7 719.6 L856.6 717.7 L860.5 712.8 L865.4 712.8 L868.4 714.7 L871.3 713.7 L874.3 734.9 L878.2 730.4 L883.1 723.6 L886.0 730.4 L891.9 726.5 L895.8 735.3 L900.8 739.3 L904.3 739.3 L906.9 723.6 L909.8 714.1 L912.8 721.6 L915.7 727.5 L919.6 727.5 L922.6 725.5 L926.5 733.4 L930.4 741.2 L934.4 743.2 L937.3 748.1 L943.2 745.2 L947.1 753.0 L952.0 761.8 L955.0 759.9 L957.9 742.2 L960.9 732.4 L963.8 746.1 L967.7 746.1 L972.6 741.2 L978.5 750.1 L981.5 744.2 L985.4 745.5 L989.3 736.3 L993.2 739.3 L997.2 740.2 L1000.1 735.3 L1003.1 736.3 L1006.0 747.1 L1009.0 727.5 L1011.9 725.1 L1014.8 752.0 L1020.7 766.7 L1025.6 784.4 L1029.6 798.2 L1033.5 812.9 L1039.4 807.6 L1042.3 790.3 L1045.3 784.4 L1048.2 766.7 L1053.1 759.9 L1057.1 742.8 L1060.0 747.1 L1063.9 772.6 L1068.8 795.2 L1072.8 773.6 L1074.7 752.0 L1078.6 735.3 L1083.5 747.1 L1087.5 759.9 L1090.4 757.9 L1094.3 772.6 L1099.3 794.2 L1102.2 785.4 L1105.1 781.5 L1108.1 764.8 L1111.0 742.2 L1114.0 727.5 L1116.9 722.0 L1122.8 730.4 L1125.7 726.5 L1129.9 715.7 L1132.9 716.7 L1138.7 725.1 L1144.6 764.8 L1146.6 806.0 L1153.5 825.6 L1161.3 794.2 L1165.2 760.9 L1168.2 752.0 L1174.1 766.7 L1179.0 758.9 L1183.9 749.1 L1186.8 748.1 L1191.7 735.3 L1196.7 730.4 L1199.6 731.4 L1204.5 755.9 L1206.5 756.9 L1210.4 763.8 L1213.3 800.1 L1216.3 794.2 L1219.2 770.7 L1225.1 790.3 L1228.1 788.3 L1231.0 763.8 L1234.0 766.7 L1239.8 759.9 L1243.8 748.7 L1246.7 753.0 L1252.6 791.3 L1258.5 747.1 L1263.4 723.6 L1266.3 729.4 L1270.3 760.9 L1276.2 782.5 L1282.1 808.0 L1286.0 800.1 L1290.9 772.6 L1293.8 773.6 L1297.7 820.7 L1299.7 811.9 L1302.7 837.4 L1303.6 855.1 L1304.6 861.0 L1306.6 861.0" stroke="#000" stroke-width="2" fill="none" stroke-linejoin="round"/><rect x="0" y="530" width="1331" height="3" fill="#808080"/><rect x="0" y="691" width="1331" height="3" fill="#808080"/><rect x="0" y="32" width="1" height="848" fill="#B03C00"/><rect x="0" y="878" width="1331" height="2" fill="#B04800"/><rect x="1329" y="32" width="2" height="848" fill="#B04800"/><rect x="84" y="878" width="2" height="2" fill="#0A0050"/><rect x="375" y="878" width="2" height="2" fill="#0A0050"/><rect x="1305" y="878" width="2" height="2" fill="#0A0050"/><path d="M1326 500h3M1326 488h3M1321 476h8M1326 465h3M1326 453h3M1326 442h3M1326 430h3M1321 419h8M1326 407h3M1326 396h3M1326 384h3M1326 373h3M1321 361h8M1326 349h3M1326 338h3M1326 326h3M1326 315h3M1321 303h8M1326 292h3M1326 280h3M1326 269h3M1326 257h3M1321 246h8M1326 234h3M1326 222h3M1326 211h3M1326 199h3M1321 188h8M1326 176h3M1326 165h3M1326 153h3M1326 142h3M1321 130h8M1326 119h3M1326 107h3M1326 95h3M1326 84h3M1321 72h8M1326 61h3M1326 49h3M1326 38h3M1321 679h8M1326 667h3M1326 654h3M1326 642h3M1326 629h3M1321 617h8M1326 605h3M1326 592h3M1326 580h3M1326 567h3M1321 555h8M1326 543h3M1321 870h8M1326 854h3M1326 839h3M1326 823h3M1326 807h3M1321 792h8M1326 776h3M1326 760h3M1326 745h3M1326 729h3M1321 713h8M1326 698h3" stroke="#B04800" stroke-width="1" transform="translate(0,0.5)"/>
<g shape-rendering="geometricPrecision"><text x="1336" y="78" fill="#3CDC3C" font-size="16" font-weight="normal" text-anchor="start" >3750</text><text x="1336" y="136" fill="#3CDC3C" font-size="16" font-weight="normal" text-anchor="start" >3500</text><text x="1336" y="194" fill="#3CDC3C" font-size="16" font-weight="normal" text-anchor="start" >3250</text><text x="1336" y="251" fill="#3CDC3C" font-size="16" font-weight="normal" text-anchor="start" >3000</text><text x="1336" y="309" fill="#3CDC3C" font-size="16" font-weight="normal" text-anchor="start" >2750</text><text x="1336" y="367" fill="#3CDC3C" font-size="16" font-weight="normal" text-anchor="start" >2500</text><text x="1336" y="424" fill="#3CDC3C" font-size="16" font-weight="normal" text-anchor="start" >2250</text><text x="1336" y="482" fill="#3CDC3C" font-size="16" font-weight="normal" text-anchor="start" >2000</text><text x="1336" y="561" fill="#3CDC3C" font-size="16" font-weight="normal" text-anchor="start" >100</text><text x="1336" y="623" fill="#3CDC3C" font-size="16" font-weight="normal" text-anchor="start" >50</text><text x="1336" y="685" fill="#3CDC3C" font-size="16" font-weight="normal" text-anchor="start" >0</text><text x="1336" y="719" fill="#3CDC3C" font-size="16" font-weight="normal" text-anchor="start" >100</text><text x="1336" y="797" fill="#3CDC3C" font-size="16" font-weight="normal" text-anchor="start" >50</text><text x="1336" y="876" fill="#3CDC3C" font-size="16" font-weight="normal" text-anchor="start" >0</text><text x="110" y="896" fill="#3CDC3C" font-size="16" font-weight="normal" text-anchor="start" >2009</text><text x="266" y="896" fill="#3CDC3C" font-size="16" font-weight="normal" text-anchor="start" >2010</text><text x="425" y="896" fill="#3CDC3C" font-size="16" font-weight="normal" text-anchor="start" >2011</text><text x="581" y="896" fill="#3CDC3C" font-size="16" font-weight="normal" text-anchor="start" >2012</text><text x="737" y="896" fill="#3CDC3C" font-size="16" font-weight="normal" text-anchor="start" >2013</text><text x="893" y="896" fill="#3CDC3C" font-size="16" font-weight="normal" text-anchor="start" >2014</text><text x="1049" y="896" fill="#3CDC3C" font-size="16" font-weight="normal" text-anchor="start" >2015</text><text x="1205" y="896" fill="#3CDC3C" font-size="16" font-weight="normal" text-anchor="start" >2016</text></g>
<g shape-rendering="geometricPrecision"><rect x="1331" y="218" width="36" height="4" fill="#FF0000"/><rect x="1331" y="222" width="36" height="20" fill="#000"/><text x="1331" y="238" fill="#FFC080" font-size="16">3059</text><rect x="1331" y="545" width="27" height="20" fill="#000080"/><text x="1331" y="561" fill="#FFE4EC" font-size="16">100</text><rect x="1331" y="852" width="49" height="19" fill="#000"/><text x="1331" y="867" fill="#FFC080" font-size="16">4,9242</text><rect x="54" y="880" width="62" height="20" fill="#000080"/><text x="54" y="896" fill="#FFE4EC" font-size="16">31.10.08</text><rect x="345" y="880" width="62" height="20" fill="#000080"/><text x="345" y="896" fill="#FFE4EC" font-size="16">10.09.10</text><rect x="1275" y="880" width="62" height="20" fill="#000080"/><text x="1275" y="896" fill="#FFE4EC" font-size="16">19.08.16</text><text x="1002.6" y="46" font-size="16" fill="#E01010" textLength="124" lengthAdjust="spacing">MovingAvg (C,52)</text><text x="1136.3" y="46" font-size="16" fill="#000" textLength="175" lengthAdjust="spacing">19.08.2016 = 3059 (+78)</text><text x="1063" y="547" fill="#1A1A6A" font-size="16" textLength="247.6" lengthAdjust="spacing">COT Commercials Index (Weekly,3)</text><text x="962.7" y="708" fill="#1A1A1A" font-size="16" textLength="348" lengthAdjust="spacing">COT Commercials Short Index by Zyxa (Weekly,3)</text><text x="5" y="528" fill="#000" font-size="11" textLength="98" lengthAdjust="spacing">TradeNavigator.com</text><text x="0" y="914" fill="#000" font-size="13" textLength="30" lengthAdjust="spacing">Bond</text><text x="526" y="13" fill="#000" font-size="11" font-weight="bold" textLength="344.6" lengthAdjust="spacing" style="white-space:pre">CC2-057:  Cocoa NYBT (Comb) Cont Liq @ ICE-US  (Weekly bars)</text><text x="588.2" y="28" fill="#000" font-size="13" textLength="220.8" lengthAdjust="spacing">www.TradeNavigator.com © 1999-2016</text></g>
<g shape-rendering="geometricPrecision">
<path d="M3.8 25 Q19 36 35 25.5 L34 22 Q19 30.5 5 22 Z" fill="#E6D22A"/>
<path d="M5 26.5 Q19 36 34 26.5" stroke="#4A3A00" stroke-width="1.3" fill="none" stroke-dasharray="1.2 0.8"/>
<path d="M9 23 L18 17.5 L28 23" stroke="#EADA50" stroke-width="2" fill="none"/>
<circle cx="14" cy="22.5" r="2.6" stroke="#E8D848" stroke-width="1.4" fill="none"/>
<circle cx="24.5" cy="21.5" r="2.6" stroke="#E8D848" stroke-width="1.4" fill="none"/>
<path d="M23 10.5 L26.5 10 L29.5 23 L27 23.5 Z" fill="#E2CC38"/>
<path d="M17 8 L22 8 L21.3 30 L17.8 30 Z" fill="#D6BE1E"/>
<rect x="18.4" y="8" width="1.4" height="20" fill="#FFF5A0"/>
<circle cx="19.5" cy="5.6" r="2.7" fill="#EEDC58" stroke="#7A6A10" stroke-width="0.8"/>
<rect x="4" y="10.8" width="12.5" height="5.4" rx="1" fill="#C8AE1C"/>
<rect x="4.3" y="11" width="12" height="2" fill="#F6EEA6"/>
<rect x="4.3" y="15" width="12" height="1.2" fill="#3A3000"/>
<path d="M15.5 27 L23.5 27 L23 34 L16 34 Z" fill="#D2BA18"/>
<rect x="17.5" y="28" width="3" height="5" fill="#F0E070"/>
</g>
</svg>
</body></html>
